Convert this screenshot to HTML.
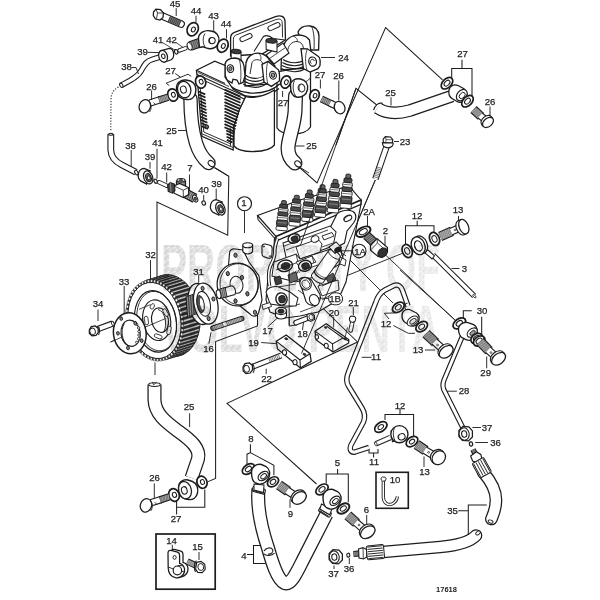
<!DOCTYPE html>
<html><head><meta charset="utf-8"><title>17618</title>
<style>
html,body{margin:0;padding:0;background:#fff;width:600px;height:600px;overflow:hidden}
svg{display:block;font-family:"Liberation Sans",sans-serif;fill:#222;filter:blur(0.45px)}
text{stroke:#222;stroke-width:0.25px;paint-order:stroke}
</style></head><body>
<svg width="600" height="600" viewBox="0 0 600 600">
<rect width="600" height="600" fill="#fff"/>
<path d="M277,92 L277,128 C282,136 305,136 310.5,127 L310.5,66 L277,72 Z" fill="#fff" stroke="#1c1c1c" stroke-width="1.26" />
<path d="M279,84 C288,88 303,86 310.5,78" fill="none" stroke="#1c1c1c" stroke-width="0.92" />
<path d="M230.6,56 L230.6,38 C230.6,34.5 232,33.2 234.5,32.3 L275.5,16.6 C281,14.8 284.6,16.5 285,21 L285.5,40 L262,54 Z" fill="#fff" stroke="#1c1c1c" stroke-width="1.32" />
<path d="M233.4,53 L233.4,39.6 C233.4,36.8 234.4,35.6 236.6,34.8 L275.8,19.6 C279.8,18.4 282,19.4 282.2,22.6 L282.6,37.5" fill="none" stroke="#1c1c1c" stroke-width="0.92" />
<rect x="239.6" y="35.3" width="12.8" height="4.6" rx="2.3" transform="rotate(-24 246 37.6)" fill="#fff" stroke="#1c1c1c" stroke-width="1"/>
<rect x="267.6" y="24.3" width="12.8" height="4.6" rx="2.3" transform="rotate(-24 274 26.6)" fill="#fff" stroke="#1c1c1c" stroke-width="1"/>
<path d="M254,51.5 L263.5,36.5 C266,35 270,36 273,38.5 L285,40" fill="none" stroke="#1c1c1c" stroke-width="1.03" />
<path d="M298,32 C300,27.5 305,25.5 310,26 C315.5,26.6 318.6,30 319,36 L318.6,50 L304,50 Z" fill="#fff" stroke="#1c1c1c" stroke-width="1.32" />
<path d="M311.5,26.4 C314,31 314.6,40 314,49" fill="none" stroke="#1c1c1c" stroke-width="0.92" />
<path d="M281.5,56 C281.5,46 286,38.5 293,36 C299,34 306,35 309.5,40 L311,52 L309,68 L281,70 Z" fill="#fff" stroke="#1c1c1c" stroke-width="1.32" />
<path d="M287.5,52 C288,45 292,41.5 297,41.5 C301,41.8 303,44.5 303.4,48" fill="none" stroke="#1c1c1c" stroke-width="0.92" />
<path d="M293,36 C296.5,37.5 298,39.5 297,41.5" fill="none" stroke="#1c1c1c" stroke-width="0.8" />
<path d="M283.0,59.5 C290,64.0 300,63.5 305,59.5" fill="none" stroke="#1c1c1c" stroke-width="1.03" />
<path d="M282.4,62.5 C290,67.0 300,66.5 305,62.5" fill="none" stroke="#1c1c1c" stroke-width="1.03" />
<path d="M281.8,65.5 C290,70.0 300,69.5 305,65.5" fill="none" stroke="#1c1c1c" stroke-width="1.03" />
<path d="M281.2,68.5 C290,73.0 300,72.5 305,68.5" fill="none" stroke="#1c1c1c" stroke-width="1.03" />
<path d="M301,48.6 L307.4,48.8 L318.4,56.4 C320,58 320.4,62 320,65.6 L318,68.6 L310,72 L303.4,68.6 Z" fill="#fff" stroke="#1c1c1c" stroke-width="1.32" />
<path d="M307.4,48.8 C305,54 305,63 307,70.4" fill="none" stroke="#1c1c1c" stroke-width="0.8" />
<ellipse cx="312.6" cy="61.6" rx="3.8" ry="4.6" transform="rotate(-15 312.6 61.6)" fill="#fff" stroke="#1c1c1c" stroke-width="1.26"/>
<path d="M311.3,63.6 A2.0,2.4 0 1 1 314.4,61" fill="none" stroke="#1c1c1c" stroke-width="0.92" />
<line x1="321" y1="57.5" x2="335" y2="57.5" stroke="#1c1c1c" stroke-width="0.92"/>
<path d="M266,55 L283,43 L289,53 L274,64 Z" fill="#fff" stroke="#1c1c1c" stroke-width="1.15" />
<path d="M269.5,58.5 L285.5,47.5" fill="none" stroke="#1c1c1c" stroke-width="0.8" />
<path d="M231.2,51.5 L231.2,59 L241,61.5 L241,52 Z" fill="#fff" stroke="#1c1c1c" stroke-width="1.03" />
<ellipse cx="236.1" cy="51.5" rx="4.9" ry="2.2" transform="rotate(5 236.1 51.5)" fill="#3a3a3a" stroke="#1c1c1c" stroke-width="1.03"/>
<path d="M266,40.8 L266.2,49.5 L277,52 L277,41.4 Z" fill="#fff" stroke="#1c1c1c" stroke-width="1.03" />
<ellipse cx="271.5" cy="40.8" rx="5.4" ry="2.3" transform="rotate(5 271.5 40.8)" fill="#3a3a3a" stroke="#1c1c1c" stroke-width="1.03"/>
<path d="M245,76 L246,63 C247,57 252,53 258.5,53.2 C264,53.6 268,57 270,61 L275,66 L270,84 L245,86 Z" fill="#fff" stroke="#1c1c1c" stroke-width="1.32" />
<path d="M250,74 L252,62.5 C253.5,59.5 257.5,59 260.5,60.5 C262.8,62 263.6,65 264,74" fill="none" stroke="#1c1c1c" stroke-width="0.92" />
<path d="M258.5,53.2 C261,55 261.6,58 260.5,60.5" fill="none" stroke="#1c1c1c" stroke-width="0.8" />
<path d="M245.5,75 C251,79.6 260,79.4 264.5,75" fill="none" stroke="#1c1c1c" stroke-width="1.03" />
<path d="M244.7,78 C251,82.6 260,82.4 265.0,78" fill="none" stroke="#1c1c1c" stroke-width="1.03" />
<path d="M243.9,81 C251,85.6 260,85.4 265.5,81" fill="none" stroke="#1c1c1c" stroke-width="1.03" />
<path d="M243.1,84 C251,88.6 260,88.4 266.0,84" fill="none" stroke="#1c1c1c" stroke-width="1.03" />
<path d="M225.5,82 C232,88 238,92 250,93 C263,93.6 273,90.5 279.5,84" fill="none" stroke="#1c1c1c" stroke-width="1.38" />
<path d="M229,88 C236,94 243,96.4 252,96.6 C264,96.8 273,94 279,88.5" fill="none" stroke="#1c1c1c" stroke-width="1.15" />
<path d="M225,75 L225,64 C226,60 230,58 235,58 C240,58.4 243.4,61.5 244,66 L245,76 L243,82.4 L239,84 L237,80 L233,79.2 L232,83 L227,80 Z" fill="#fff" stroke="#1c1c1c" stroke-width="1.32" />
<path d="M239.5,59.5 C241,66 241.4,76 240.4,83" fill="none" stroke="#1c1c1c" stroke-width="0.8" />
<ellipse cx="230.4" cy="68.6" rx="3.2" ry="3.9" transform="rotate(-10 230.4 68.6)" fill="#fff" stroke="#1c1c1c" stroke-width="1.15"/>
<ellipse cx="230.4" cy="68.6" rx="1.6" ry="2.0" transform="rotate(-10 230.4 68.6)" fill="#999" stroke="#1c1c1c" stroke-width="0.92"/>
<path d="M262,64.4 L268,61.4 L278.4,69.8 C279.4,72 279.8,76 279.4,81 L271.4,86.4 L264,82 Z" fill="#fff" stroke="#1c1c1c" stroke-width="1.32" />
<path d="M268,61.4 C266,66 266,78 268,84.4" fill="none" stroke="#1c1c1c" stroke-width="0.8" />
<ellipse cx="273" cy="75.2" rx="3.3" ry="4.0" transform="rotate(-15 273 75.2)" fill="#fff" stroke="#1c1c1c" stroke-width="1.15"/>
<ellipse cx="273" cy="75.2" rx="1.7" ry="2.1" transform="rotate(-15 273 75.2)" fill="#999" stroke="#1c1c1c" stroke-width="0.92"/>
<path d="M234,126 L234,146 C240,153.5 268,153.5 274.4,145 L274.4,90 C262,98 250,98 245.5,96.5 L239,110 Z" fill="#fff" stroke="#1c1c1c" stroke-width="1.26" />
<path d="M196.4,70.2 L214.8,61.2 L225,65.5 L225,77 L233,89 L245.8,96.3 L239.2,110 L233.6,127 L233.2,150 L202,136.4 L197,75 Z" fill="#fff" stroke="#1c1c1c" stroke-width="1.26" />
<path d="M197,74.6 L245.5,96.6" fill="none" stroke="#1c1c1c" stroke-width="1.15" />
<path d="M197.3,77.4 L244.3,99" fill="none" stroke="#1c1c1c" stroke-width="1.03" />
<path d="M196.4,70.2 L225,83.5" fill="none" stroke="#1c1c1c" stroke-width="1.03" />
<path d="M197.8,72.4 L229,86.5" fill="none" stroke="#1c1c1c" stroke-width="0.8" />
<path d="M199.8,82 L203.8,132 L231,144 M202.5,134 L233,147.5 M230.2,128 L230.6,146" fill="none" stroke="#1c1c1c" stroke-width="0.92" />
<line x1="198.7" y1="91.5" x2="205.2" y2="94.4" stroke="#1c1c1c" stroke-width="1.72"/>
<line x1="198.95" y1="94.65" x2="205.45" y2="97.55000000000001" stroke="#1c1c1c" stroke-width="1.72"/>
<line x1="199.2" y1="97.8" x2="205.7" y2="100.7" stroke="#1c1c1c" stroke-width="1.72"/>
<line x1="199.45" y1="100.95" x2="205.95" y2="103.85000000000001" stroke="#1c1c1c" stroke-width="1.72"/>
<line x1="199.7" y1="104.1" x2="206.2" y2="107.0" stroke="#1c1c1c" stroke-width="1.72"/>
<line x1="199.95" y1="107.25" x2="206.45" y2="110.15" stroke="#1c1c1c" stroke-width="1.72"/>
<line x1="200.2" y1="110.4" x2="206.7" y2="113.30000000000001" stroke="#1c1c1c" stroke-width="1.72"/>
<line x1="200.45" y1="113.55" x2="206.95" y2="116.45" stroke="#1c1c1c" stroke-width="1.72"/>
<line x1="200.7" y1="116.7" x2="207.2" y2="119.60000000000001" stroke="#1c1c1c" stroke-width="1.72"/>
<line x1="200.95" y1="119.85" x2="207.45" y2="122.75" stroke="#1c1c1c" stroke-width="1.72"/>
<line x1="201.2" y1="123.0" x2="207.7" y2="125.9" stroke="#1c1c1c" stroke-width="1.72"/>
<line x1="201.45" y1="126.15" x2="207.95" y2="129.05" stroke="#1c1c1c" stroke-width="1.72"/>
<line x1="224.5" y1="89.5" x2="240.5" y2="96.5" stroke="#1c1c1c" stroke-width="1.78"/>
<line x1="224.5" y1="92.65" x2="240.5" y2="99.65" stroke="#1c1c1c" stroke-width="1.78"/>
<line x1="224.5" y1="95.8" x2="240.5" y2="102.8" stroke="#1c1c1c" stroke-width="1.78"/>
<line x1="224.5" y1="98.95" x2="240.5" y2="105.95" stroke="#1c1c1c" stroke-width="1.78"/>
<line x1="224.5" y1="102.1" x2="239.88" y2="108.82874999999999" stroke="#1c1c1c" stroke-width="1.78"/>
<line x1="224.5" y1="105.25" x2="239.26" y2="111.7075" stroke="#1c1c1c" stroke-width="1.78"/>
<line x1="224.5" y1="108.4" x2="238.64" y2="114.58625" stroke="#1c1c1c" stroke-width="1.78"/>
<line x1="224.5" y1="111.55" x2="238.02" y2="117.465" stroke="#1c1c1c" stroke-width="1.78"/>
<line x1="224.5" y1="114.7" x2="237.4" y2="120.34375" stroke="#1c1c1c" stroke-width="1.78"/>
<line x1="224.5" y1="117.85" x2="236.78" y2="123.2225" stroke="#1c1c1c" stroke-width="1.78"/>
<line x1="224.5" y1="121.0" x2="236.16" y2="126.10125" stroke="#1c1c1c" stroke-width="1.78"/>
<line x1="224.5" y1="124.15" x2="235.54" y2="128.98" stroke="#1c1c1c" stroke-width="1.78"/>
<line x1="224.5" y1="127.3" x2="234.92" y2="131.85875" stroke="#1c1c1c" stroke-width="1.78"/>
<line x1="226.2" y1="130.45" x2="234.3" y2="133.99375" stroke="#1c1c1c" stroke-width="1.78"/>
<line x1="226.4" y1="133.6" x2="233.68" y2="136.785" stroke="#1c1c1c" stroke-width="1.78"/>
<line x1="226.6" y1="136.75" x2="233.06" y2="139.57625000000002" stroke="#1c1c1c" stroke-width="1.78"/>
<line x1="226.8" y1="139.9" x2="232.44" y2="142.3675" stroke="#1c1c1c" stroke-width="1.78"/>
<ellipse cx="206.8" cy="126.6" rx="2.0" ry="1.6" transform="rotate(20 206.8 126.6)" fill="#666" stroke="#1c1c1c" stroke-width="0.92"/>
<ellipse cx="285.8" cy="82" rx="4.8" ry="6.3" transform="rotate(22 285.8 82)" fill="#fff" stroke="#1c1c1c" stroke-width="1.72"/>
<ellipse cx="286.3563103127401" cy="82.22476395604954" rx="1.8239999999999998" ry="2.394" transform="rotate(22 286.3563103127401 82.22476395604954)" fill="#fff" stroke="#1c1c1c" stroke-width="1.03"/>
<line x1="282.6" y1="91" x2="282.6" y2="97" stroke="#1c1c1c" stroke-width="0.92"/>
<path d="M295.5,96 L295,112 C293.5,128 288.5,138 288,148 C288,155 290.5,159.5 295,163" fill="none" stroke="#1c1c1c" stroke-width="15.0" stroke-linecap="round" stroke-linejoin="round"/>
<path d="M295.5,96 L295,112 C293.5,128 288.5,138 288,148 C288,155 290.5,159.5 295,163" fill="none" stroke="#fff" stroke-width="12.5" stroke-linecap="round" stroke-linejoin="round"/>
<ellipse cx="298" cy="164" rx="2.6" ry="3.6" transform="rotate(-50 298 164)" fill="#fff" stroke="#1c1c1c" stroke-width="1.03"/>
<path d="M290.5,85.5 C290.5,80.5 295.5,78 300.5,79 C306,80 308.5,84.5 307.5,89.5 C306.5,95 301.5,98 296.5,97 C292.5,96.5 290.5,91.5 290.5,85.5 Z" fill="#fff" stroke="#1c1c1c" stroke-width="1.38" />
<path d="M294.5,80.5 C292,85.5 293,93.5 296.5,96.9" fill="none" stroke="#1c1c1c" stroke-width="0.92" />
<ellipse cx="301.5" cy="88" rx="3.3" ry="4.0" transform="rotate(-15 301.5 88)" fill="#fff" stroke="#1c1c1c" stroke-width="1.03"/>
<path d="M300.1,91 A3.3,4 -15 0 1 300.1,85.1" fill="none" stroke="#1c1c1c" stroke-width="0.92" />
<ellipse cx="314.5" cy="95.5" rx="4.6" ry="6.0" transform="rotate(22 314.5 95.5)" fill="#fff" stroke="#1c1c1c" stroke-width="1.72"/>
<ellipse cx="315.0563103127401" cy="95.72476395604954" rx="1.7479999999999998" ry="2.2800000000000002" transform="rotate(22 315.0563103127401 95.72476395604954)" fill="#fff" stroke="#1c1c1c" stroke-width="1.03"/>
<line x1="320.4" y1="79.5" x2="320.4" y2="88.5" stroke="#1c1c1c" stroke-width="0.92"/>
<path d="M321.5,99 L333,104.5" fill="none" stroke="#1c1c1c" stroke-width="7.24" stroke-linecap="butt" stroke-linejoin="round"/>
<path d="M321.5,99 L333,104.5" fill="none" stroke="#666" stroke-width="5.0" stroke-linecap="butt" stroke-linejoin="round"/>
<line x1="323.5" y1="97.1" x2="321.5" y2="101.9" stroke="#ddd" stroke-width="0.57"/>
<line x1="325.1" y1="97.86999999999999" x2="323.1" y2="102.67" stroke="#ddd" stroke-width="0.57"/>
<line x1="326.7" y1="98.64" x2="324.7" y2="103.44000000000001" stroke="#ddd" stroke-width="0.57"/>
<line x1="328.3" y1="99.41" x2="326.3" y2="104.21000000000001" stroke="#ddd" stroke-width="0.57"/>
<line x1="329.9" y1="100.17999999999999" x2="327.9" y2="104.98" stroke="#ddd" stroke-width="0.57"/>
<line x1="331.5" y1="100.94999999999999" x2="329.5" y2="105.75" stroke="#ddd" stroke-width="0.57"/>
<path d="M330,103 L336,106" fill="none" stroke="#1c1c1c" stroke-width="7.24" stroke-linecap="butt" stroke-linejoin="round"/>
<path d="M330,103 L336,106" fill="none" stroke="#fff" stroke-width="5.0" stroke-linecap="butt" stroke-linejoin="round"/>
<ellipse cx="339.6" cy="107.6" rx="5.2" ry="6.4" transform="rotate(-25 339.6 107.6)" fill="#fff" stroke="#1c1c1c" stroke-width="1.26"/>
<path d="M335.2,104.6 C333.5,107 334.5,111.5 337,113" fill="none" stroke="#1c1c1c" stroke-width="0.92" />
<line x1="338.8" y1="80.5" x2="338.8" y2="100.5" stroke="#1c1c1c" stroke-width="0.92"/>
<line x1="295.5" y1="146" x2="304.5" y2="146" stroke="#1c1c1c" stroke-width="0.92"/>
<line x1="299.5" y1="167" x2="309" y2="173" stroke="#1c1c1c" stroke-width="0.92"/>
<path d="M160,15 L181,24" fill="none" stroke="#1c1c1c" stroke-width="7.84" stroke-linecap="round" stroke-linejoin="round"/>
<path d="M160,15 L181,24" fill="none" stroke="#fff" stroke-width="5.6" stroke-linecap="round" stroke-linejoin="round"/>
<path d="M169,18.86 L180,23.57" fill="none" stroke="#1c1c1c" stroke-width="5.6" stroke-linecap="butt" stroke-linejoin="round"/>
<path d="M169,18.86 L180,23.57" fill="none" stroke="#777" stroke-width="5.6" stroke-linecap="butt" stroke-linejoin="round"/>
<line x1="170.54999999999998" y1="16.45" x2="168.35" y2="21.650000000000002" stroke="#222" stroke-width="0.57"/>
<line x1="172.23" y1="17.169999999999998" x2="170.03" y2="22.37" stroke="#222" stroke-width="0.57"/>
<line x1="173.91" y1="17.89" x2="171.71" y2="23.090000000000003" stroke="#222" stroke-width="0.57"/>
<line x1="175.59" y1="18.61" x2="173.39000000000001" y2="23.810000000000002" stroke="#222" stroke-width="0.57"/>
<line x1="177.27" y1="19.33" x2="175.07000000000002" y2="24.53" stroke="#222" stroke-width="0.57"/>
<line x1="178.95" y1="20.049999999999997" x2="176.75" y2="25.25" stroke="#222" stroke-width="0.57"/>
<line x1="180.63" y1="20.77" x2="178.43" y2="25.970000000000002" stroke="#222" stroke-width="0.57"/>
<path d="M153.5,12 L156,9.2 L160.5,9.6 L163.5,13 L163,17.5 L160,20 L155.5,19 L153.3,15.5 Z" fill="#fff" stroke="#1c1c1c" stroke-width="1.26" />
<path d="M156,9.2 L157.5,13 L156.5,18.8 M157.5,13 L163.5,13" fill="none" stroke="#1c1c1c" stroke-width="0.8" />
<line x1="176.2" y1="8.2" x2="176.2" y2="16" stroke="#1c1c1c" stroke-width="0.92"/>
<ellipse cx="192.7" cy="29.2" rx="5.4" ry="6.9" transform="rotate(25 192.7 29.2)" fill="#fff" stroke="#1c1c1c" stroke-width="1.72"/>
<ellipse cx="193.33441545092563" cy="29.49583278321849" rx="1.944" ry="2.484" transform="rotate(25 193.33441545092563 29.49583278321849)" fill="#fff" stroke="#1c1c1c" stroke-width="1.03"/>
<line x1="196" y1="15.7" x2="196" y2="22.5" stroke="#1c1c1c" stroke-width="0.92"/>
<path d="M200,42.6 L190,46.2" fill="none" stroke="#1c1c1c" stroke-width="9.84" stroke-linecap="butt" stroke-linejoin="round"/>
<path d="M200,42.6 L190,46.2" fill="none" stroke="#555" stroke-width="7.6" stroke-linecap="butt" stroke-linejoin="round"/>
<ellipse cx="189.6" cy="46.3" rx="2.2" ry="3.9" transform="rotate(-20 189.6 46.3)" fill="#fff" stroke="#1c1c1c" stroke-width="1.03"/>
<line x1="197.3" y1="39.5" x2="199.7" y2="46.7" stroke="#c8c8c8" stroke-width="0.52"/>
<line x1="195.5" y1="40.15" x2="197.89999999999998" y2="47.35" stroke="#c8c8c8" stroke-width="0.52"/>
<line x1="193.70000000000002" y1="40.8" x2="196.1" y2="48.0" stroke="#c8c8c8" stroke-width="0.52"/>
<line x1="191.9" y1="41.45" x2="194.29999999999998" y2="48.650000000000006" stroke="#c8c8c8" stroke-width="0.52"/>
<line x1="190.10000000000002" y1="42.1" x2="192.5" y2="49.300000000000004" stroke="#c8c8c8" stroke-width="0.52"/>
<path d="M198.5,39 C198,33 205,29.5 211,31 C216.5,31.5 219.5,36 219,41 C218.5,46.5 213.5,49.5 208.5,48.5 C205,48 203,46 202,47 L199.5,47.5 Z" fill="#fff" stroke="#1c1c1c" stroke-width="1.38" />
<path d="M205,33.5 C202.5,37 202.5,44 205.5,47.5" fill="none" stroke="#1c1c1c" stroke-width="0.92" />
<circle cx="212" cy="40.6" r="3.2" fill="#fff" stroke="#1c1c1c" stroke-width="1.03"/>
<path d="M210.2,42.8 A3.2,3.2 0 0 1 210.5,38" fill="none" stroke="#1c1c1c" stroke-width="1.03" />
<line x1="213.7" y1="20.2" x2="213.7" y2="30.7" stroke="#1c1c1c" stroke-width="0.92"/>
<ellipse cx="222.7" cy="45.7" rx="5.2" ry="6.8" transform="rotate(25 222.7 45.7)" fill="#fff" stroke="#1c1c1c" stroke-width="1.72"/>
<ellipse cx="223.33441545092563" cy="45.99583278321849" rx="1.8719999999999999" ry="2.448" transform="rotate(25 223.33441545092563 45.99583278321849)" fill="#fff" stroke="#1c1c1c" stroke-width="1.03"/>
<line x1="226.5" y1="29.2" x2="226.5" y2="38.5" stroke="#1c1c1c" stroke-width="0.92"/>
<line x1="162.7" y1="42.7" x2="175.3" y2="50.3" stroke="#1c1c1c" stroke-width="0.8"/>
<line x1="176.2" y1="42.7" x2="183" y2="47.4" stroke="#1c1c1c" stroke-width="0.8"/>
<ellipse cx="176.2" cy="51.8" rx="1.6" ry="2.3" transform="rotate(-20 176.2 51.8)" fill="#fff" stroke="#1c1c1c" stroke-width="1.15"/>
<path d="M179.5,50.4 L185.6,48.2" fill="none" stroke="#1c1c1c" stroke-width="4.36" stroke-linecap="round" stroke-linejoin="round"/>
<path d="M179.5,50.4 L185.6,48.2" fill="none" stroke="#fff" stroke-width="2.6" stroke-linecap="round" stroke-linejoin="round"/>
<path d="M160,57 L152,59.5 C146,61 144,66 141,71 C139,74.5 136,77 130,80.5 L121.5,85.2" fill="none" stroke="#1c1c1c" stroke-width="5.84" stroke-linecap="butt" stroke-linejoin="round"/>
<path d="M160,57 L152,59.5 C146,61 144,66 141,71 C139,74.5 136,77 130,80.5 L121.5,85.2" fill="none" stroke="#fff" stroke-width="3.6" stroke-linecap="butt" stroke-linejoin="round"/>
<ellipse cx="121.3" cy="85.3" rx="1.4" ry="2.3" transform="rotate(-30 121.3 85.3)" fill="#fff" stroke="#1c1c1c" stroke-width="1.03"/>
<path d="M160.5,50.8 L169.2,48.3 C174.2,48.3 175.2,57.3 171.2,59.8 L164.2,62.3 Z" fill="#fff" stroke="#1c1c1c" stroke-width="1.26" />
<ellipse cx="163.1" cy="56.3" rx="4.3" ry="6.0" transform="rotate(-18 163.1 56.3)" fill="#fff" stroke="#1c1c1c" stroke-width="1.26"/>
<ellipse cx="163.29999999999998" cy="56.3" rx="1.7" ry="2.3" transform="rotate(-18 163.29999999999998 56.3)" fill="#fff" stroke="#1c1c1c" stroke-width="1.03"/>
<line x1="147.5" y1="52.3" x2="159" y2="52.6" stroke="#1c1c1c" stroke-width="0.92"/>
<path d="M131.5,67.5 L136,67.5 L138.5,74" fill="none" stroke="#1c1c1c" stroke-width="0.92" />
<path d="M118.5,87 C113,90 111,94 111,100 L110.8,131" fill="none" stroke="#1c1c1c" stroke-width="1.03" stroke-dasharray="1.2 1.6"/>
<path d="M190.5,99 C190.5,118 193,133 196,143 C198.5,151 202.5,158 208.5,163" fill="none" stroke="#1c1c1c" stroke-width="14.5" stroke-linecap="round" stroke-linejoin="round"/>
<path d="M190.5,99 C190.5,118 193,133 196,143 C198.5,151 202.5,158 208.5,163" fill="none" stroke="#fff" stroke-width="12.0" stroke-linecap="round" stroke-linejoin="round"/>
<ellipse cx="211.4" cy="163.6" rx="2.6" ry="3.6" transform="rotate(-50 211.4 163.6)" fill="#fff" stroke="#1c1c1c" stroke-width="1.03"/>
<line x1="178" y1="130.5" x2="187" y2="130.5" stroke="#1c1c1c" stroke-width="0.92"/>
<line x1="214" y1="167.5" x2="228.7" y2="176.2" stroke="#1c1c1c" stroke-width="0.92"/>
<ellipse cx="200.6" cy="82" rx="5.0" ry="6.3" transform="rotate(-20 200.6 82)" fill="#fff" stroke="#1c1c1c" stroke-width="1.72"/>
<ellipse cx="201.16381557247155" cy="81.7947879140046" rx="1.9" ry="2.394" transform="rotate(-20 201.16381557247155 81.7947879140046)" fill="#fff" stroke="#1c1c1c" stroke-width="1.03"/>
<path d="M176.5,88 C176.5,82.5 181,79.5 186,80 L190.5,81 C195,83 196.5,88 195.5,93 C194.5,97.5 191,100 187,99.5 L183.5,99 C179,98 176.5,93.5 176.5,88 Z" fill="#fff" stroke="#1c1c1c" stroke-width="1.38" />
<ellipse cx="184.2" cy="89.6" rx="6.6" ry="8.2" transform="rotate(-15 184.2 89.6)" fill="#fff" stroke="#1c1c1c" stroke-width="1.26"/>
<ellipse cx="183.4" cy="89.6" rx="2.9" ry="3.6" transform="rotate(-15 183.4 89.6)" fill="#fff" stroke="#1c1c1c" stroke-width="1.03"/>
<ellipse cx="172.8" cy="95" rx="5.0" ry="6.3" transform="rotate(-20 172.8 95)" fill="#fff" stroke="#1c1c1c" stroke-width="1.72"/>
<ellipse cx="173.36381557247157" cy="94.7947879140046" rx="1.9" ry="2.394" transform="rotate(-20 173.36381557247157 94.7947879140046)" fill="#fff" stroke="#1c1c1c" stroke-width="1.03"/>
<path d="M150,103 L160,99.8" fill="none" stroke="#1c1c1c" stroke-width="7.44" stroke-linecap="butt" stroke-linejoin="round"/>
<path d="M150,103 L160,99.8" fill="none" stroke="#fff" stroke-width="5.2" stroke-linecap="butt" stroke-linejoin="round"/>
<path d="M159,100.1 L168,97.2" fill="none" stroke="#1c1c1c" stroke-width="7.44" stroke-linecap="butt" stroke-linejoin="round"/>
<path d="M159,100.1 L168,97.2" fill="none" stroke="#666" stroke-width="5.2" stroke-linecap="butt" stroke-linejoin="round"/>
<line x1="159.2" y1="97.2" x2="160.8" y2="102.39999999999999" stroke="#ddd" stroke-width="0.57"/>
<line x1="160.7" y1="96.72" x2="162.3" y2="101.91999999999999" stroke="#ddd" stroke-width="0.57"/>
<line x1="162.2" y1="96.24000000000001" x2="163.8" y2="101.44" stroke="#ddd" stroke-width="0.57"/>
<line x1="163.7" y1="95.76" x2="165.3" y2="100.96" stroke="#ddd" stroke-width="0.57"/>
<line x1="165.2" y1="95.28" x2="166.8" y2="100.47999999999999" stroke="#ddd" stroke-width="0.57"/>
<line x1="166.7" y1="94.8" x2="168.3" y2="99.99999999999999" stroke="#ddd" stroke-width="0.57"/>
<line x1="151.6" y1="90.5" x2="151.6" y2="100" stroke="#1c1c1c" stroke-width="0.92"/>
<line x1="153.5" y1="102.5" x2="156" y2="105" stroke="#1c1c1c" stroke-width="0.8"/>
<ellipse cx="144.8" cy="106.3" rx="5.6" ry="6.8" transform="rotate(20 144.8 106.3)" fill="#fff" stroke="#1c1c1c" stroke-width="1.26"/>
<path d="M149.2,102 C151.5,104 151.8,109 149.5,112" fill="none" stroke="#1c1c1c" stroke-width="0.92" />
<path d="M166.2,83.2 L188,74.2 M175.2,73.5 L180.5,77.2 M166.2,83.2 L169.2,85.6 M188,74.2 L191.2,76.4" fill="none" stroke="#1c1c1c" stroke-width="0.92" />
<path d="M110.8,134 L110.8,150 C111,158 116,162 122,165 L136,172.2" fill="none" stroke="#1c1c1c" stroke-width="6.84" stroke-linecap="butt" stroke-linejoin="round"/>
<path d="M110.8,134 L110.8,150 C111,158 116,162 122,165 L136,172.2" fill="none" stroke="#fff" stroke-width="4.6" stroke-linecap="butt" stroke-linejoin="round"/>
<ellipse cx="110.8" cy="134.2" rx="2.3" ry="1.0" transform="rotate(0 110.8 134.2)" fill="#fff" stroke="#1c1c1c" stroke-width="1.03"/>
<ellipse cx="136.4" cy="172.6" rx="1.5" ry="2.5" transform="rotate(-28 136.4 172.6)" fill="#fff" stroke="#1c1c1c" stroke-width="1.03"/>
<line x1="131.2" y1="150" x2="131.2" y2="166.5" stroke="#1c1c1c" stroke-width="0.92"/>
<path d="M150.1,170.8 L144.1,168.4 C137.6,168.9 136.6,177.9 140.6,180.9 L146.6,184.0 Z" fill="#fff" stroke="#1c1c1c" stroke-width="1.26" />
<ellipse cx="148.2" cy="177.4" rx="4.4" ry="6.7" transform="rotate(-20 148.2 177.4)" fill="#fff" stroke="#1c1c1c" stroke-width="1.26"/>
<ellipse cx="148.5" cy="177.6" rx="2.7" ry="4.2" transform="rotate(-20 148.5 177.6)" fill="#666" stroke="#1c1c1c" stroke-width="0.92"/>
<ellipse cx="148.7" cy="177.8" rx="1.3" ry="2.0" transform="rotate(-20 148.7 177.8)" fill="#fff" stroke="#1c1c1c" stroke-width="0.8"/>
<line x1="150" y1="162" x2="150" y2="168.7" stroke="#1c1c1c" stroke-width="0.92"/>
<line x1="157" y1="148.7" x2="157" y2="178.7" stroke="#1c1c1c" stroke-width="0.92"/>
<ellipse cx="155.6" cy="181.2" rx="1.5" ry="2.2" transform="rotate(-25 155.6 181.2)" fill="#fff" stroke="#1c1c1c" stroke-width="1.15"/>
<line x1="166.7" y1="172.5" x2="166.7" y2="182.5" stroke="#1c1c1c" stroke-width="0.92"/>
<path d="M159.2,182.3 L166.8,185.7" fill="none" stroke="#1c1c1c" stroke-width="4.36" stroke-linecap="round" stroke-linejoin="round"/>
<path d="M159.2,182.3 L166.8,185.7" fill="none" stroke="#fff" stroke-width="2.6" stroke-linecap="round" stroke-linejoin="round"/>
<path d="M181,180.5 L181,190" fill="none" stroke="#1c1c1c" stroke-width="10.24" stroke-linecap="butt" stroke-linejoin="round"/>
<path d="M181,180.5 L181,190" fill="none" stroke="#666" stroke-width="8.0" stroke-linecap="butt" stroke-linejoin="round"/>
<line x1="177.4" y1="183.2" x2="184.6" y2="183.2" stroke="#ddd" stroke-width="0.57"/>
<line x1="177.4" y1="185.2" x2="184.6" y2="185.2" stroke="#ddd" stroke-width="0.57"/>
<line x1="177.4" y1="187.2" x2="184.6" y2="187.2" stroke="#ddd" stroke-width="0.57"/>
<ellipse cx="181" cy="180.3" rx="4.0" ry="1.7" transform="rotate(0 181 180.3)" fill="#fff" stroke="#1c1c1c" stroke-width="1.03"/>
<ellipse cx="181" cy="180.3" rx="2.0" ry="0.8" transform="rotate(0 181 180.3)" fill="#555" stroke="#1c1c1c" stroke-width="0.69"/>
<path d="M186,193.6 L195,198.4" fill="none" stroke="#1c1c1c" stroke-width="9.84" stroke-linecap="butt" stroke-linejoin="round"/>
<path d="M186,193.6 L195,198.4" fill="none" stroke="#666" stroke-width="7.6" stroke-linecap="butt" stroke-linejoin="round"/>
<line x1="189.6" y1="191.5" x2="186.4" y2="197.89999999999998" stroke="#ddd" stroke-width="0.57"/>
<line x1="191.5" y1="192.5" x2="188.3" y2="198.89999999999998" stroke="#ddd" stroke-width="0.57"/>
<line x1="193.4" y1="193.5" x2="190.20000000000002" y2="199.89999999999998" stroke="#ddd" stroke-width="0.57"/>
<line x1="195.29999999999998" y1="194.5" x2="192.1" y2="200.89999999999998" stroke="#ddd" stroke-width="0.57"/>
<ellipse cx="195.2" cy="198.6" rx="2.2" ry="3.7" transform="rotate(-27 195.2 198.6)" fill="#fff" stroke="#1c1c1c" stroke-width="1.03"/>
<ellipse cx="195.4" cy="198.7" rx="1.0" ry="1.8" transform="rotate(-27 195.4 198.7)" fill="#555" stroke="#1c1c1c" stroke-width="0.8"/>
<path d="M174,186 L179.5,183.4 L188.6,187.6 L188.6,194.6 L183.4,197.6 L174,193.2 Z" fill="#fff" stroke="#1c1c1c" stroke-width="1.15" />
<path d="M174,186 L183.2,190.2 L188.6,187.6 M183.2,190.2 L183.4,197.6" fill="none" stroke="#1c1c1c" stroke-width="0.8" />
<path d="M167.6,185 L170.4,182.6 L174.4,184.2 L175,190.6 L172.4,193.2 L168.2,191.4 Z" fill="#444" stroke="#1c1c1c" stroke-width="1.03" />
<line x1="170.4" y1="182.8" x2="171" y2="192.4" stroke="#ccc" stroke-width="0.57"/>
<line x1="189.5" y1="174.5" x2="189.5" y2="190.5" stroke="#1c1c1c" stroke-width="0.92"/>
<line x1="203.7" y1="195" x2="203.7" y2="200.8" stroke="#1c1c1c" stroke-width="0.92"/>
<ellipse cx="203.7" cy="203" rx="1.7" ry="2.2" transform="rotate(-20 203.7 203)" fill="#fff" stroke="#1c1c1c" stroke-width="1.15"/>
<line x1="216.2" y1="188.7" x2="216.2" y2="200" stroke="#1c1c1c" stroke-width="0.92"/>
<path d="M222.3,202.0 L216.3,199.6 C209.8,200.1 208.8,209.1 212.8,212.1 L218.8,215.2 Z" fill="#fff" stroke="#1c1c1c" stroke-width="1.26" />
<ellipse cx="220.4" cy="208.6" rx="4.4" ry="6.7" transform="rotate(-20 220.4 208.6)" fill="#fff" stroke="#1c1c1c" stroke-width="1.26"/>
<ellipse cx="220.70000000000002" cy="208.79999999999998" rx="2.7" ry="4.2" transform="rotate(-20 220.70000000000002 208.79999999999998)" fill="#666" stroke="#1c1c1c" stroke-width="0.92"/>
<ellipse cx="220.9" cy="209.0" rx="1.3" ry="2.0" transform="rotate(-20 220.9 209.0)" fill="#fff" stroke="#1c1c1c" stroke-width="0.8"/>
<circle cx="244.5" cy="203.7" r="7" fill="#fff" stroke="#1c1c1c" stroke-width="1.15"/>
<line x1="244.5" y1="210.7" x2="244.5" y2="233" stroke="#1c1c1c" stroke-width="0.92"/>
<path d="M157,277 L157,202 L227.7,235.3 L228.8,176.3 L215,167.8" fill="none" stroke="#1c1c1c" stroke-width="1.03" />
<ellipse cx="171.0" cy="315.5" rx="28.5" ry="41" transform="rotate(-10 171.0 315.5)" fill="#333" stroke="#1c1c1c" stroke-width="1.15"/>
<path d="M182.5670209608479,315.55102693649246 L182.92206411530972,317.8227756439092 L199.42206411530972,312.8227756439092 L199.0670209608479,310.55102693649246 Z" fill="#c8c8c8" stroke="#222" stroke-width="0.4" />
<path d="M182.92206411530972,317.8227756439092 L183.18768094091382,320.1029478896278 L199.68768094091382,315.1029478896278 L199.42206411530972,312.8227756439092 Z" fill="#2b2b2b" stroke="#222" stroke-width="0.4" />
<path d="M183.18768094091382,320.1029478896278 L183.36303570885804,322.38436940818076 L199.86303570885804,317.38436940818076 L199.68768094091382,315.1029478896278 Z" fill="#c8c8c8" stroke="#222" stroke-width="0.4" />
<path d="M183.36303570885804,322.38436940818076 L183.44757668816752,324.65986200342604 L199.94757668816752,319.65986200342604 L199.86303570885804,317.38436940818076 Z" fill="#2b2b2b" stroke="#222" stroke-width="0.4" />
<path d="M183.44757668816752,324.65986200342604 L183.4410378816441,326.92226613380785 L199.9410378816441,321.92226613380785 L199.94757668816752,319.65986200342604 Z" fill="#c8c8c8" stroke="#222" stroke-width="0.4" />
<path d="M183.4410378816441,326.92226613380785 L183.34343986279228,329.16446343892306 L199.84343986279228,324.16446343892306 L199.9410378816441,321.92226613380785 Z" fill="#2b2b2b" stroke="#222" stroke-width="0.4" />
<path d="M183.34343986279228,329.16446343892306 L183.15508971108716,331.3793991365167 L199.65508971108716,326.3793991365167 L199.84343986279228,324.16446343892306 Z" fill="#c8c8c8" stroke="#222" stroke-width="0.4" />
<path d="M183.15508971108716,331.3793991365167 L182.87658004578884,333.5601042194369 L199.37658004578884,328.5601042194369 L199.65508971108716,326.3793991365167 Z" fill="#2b2b2b" stroke="#222" stroke-width="0.4" />
<path d="M182.87658004578884,333.5601042194369 L182.50878716134295,335.6997173827094 L199.00878716134295,330.6997173827094 L199.37658004578884,328.5601042194369 Z" fill="#c8c8c8" stroke="#222" stroke-width="0.4" />
<path d="M182.50878716134295,335.6997173827094 L182.0528682702343,337.79150661174225 L198.5528682702343,332.79150661174225 L199.00878716134295,330.6997173827094 Z" fill="#2b2b2b" stroke="#222" stroke-width="0.4" />
<path d="M182.0528682702343,337.79150661174225 L181.51025786196806,339.8288903637332 L198.01025786196806,334.8288903637332 L198.5528682702343,332.79150661174225 Z" fill="#c8c8c8" stroke="#222" stroke-width="0.4" />
<path d="M181.51025786196806,339.8288903637332 L180.88266318963505,341.8054582756391 L197.38266318963505,336.8054582756391 L198.01025786196806,334.8288903637332 Z" fill="#2b2b2b" stroke="#222" stroke-width="0.4" />
<path d="M180.88266318963505,341.8054582756391 L180.17205889826224,343.71499133354956 L196.67205889826224,338.71499133354956 L197.38266318963505,336.8054582756391 Z" fill="#c8c8c8" stroke="#222" stroke-width="0.4" />
<path d="M180.17205889826224,343.71499133354956 L179.38068081184844,345.5514814400051 L195.88068081184844,340.5514814400051 L196.67205889826224,338.71499133354956 Z" fill="#2b2b2b" stroke="#222" stroke-width="0.4" />
<path d="M179.38068081184844,345.5514814400051 L178.51101889863523,347.30915031769484 L195.01101889863523,342.30915031769484 L195.88068081184844,340.5514814400051 Z" fill="#c8c8c8" stroke="#222" stroke-width="0.4" />
<path d="M178.51101889863523,347.30915031769484 L177.56580943674552,348.9824676900548 L194.06580943674552,343.9824676900548 L195.01101889863523,342.30915031769484 Z" fill="#2b2b2b" stroke="#222" stroke-width="0.4" />
<path d="M177.56580943674552,348.9824676900548 L176.54802640484024,350.56616868156374 L193.04802640484024,345.56616868156374 L194.06580943674552,343.9824676900548 Z" fill="#c8c8c8" stroke="#222" stroke-width="0.4" />
<path d="M176.54802640484024,350.56616868156374 L175.46087212488118,352.05527038298936 L191.96087212488118,347.05527038298936 L193.04802640484024,345.56616868156374 Z" fill="#2b2b2b" stroke="#222" stroke-width="0.4" />
<path d="M175.46087212488118,352.05527038298936 L174.30776718644148,353.44508752946456 L190.80776718644148,348.44508752946456 L191.96087212488118,347.05527038298936 Z" fill="#c8c8c8" stroke="#222" stroke-width="0.4" />
<path d="M174.30776718644148,353.44508752946456 L173.09233968426514,354.7312472420636 L189.59233968426514,349.7312472420636 L190.80776718644148,348.44508752946456 Z" fill="#2b2b2b" stroke="#222" stroke-width="0.4" />
<path d="M173.09233968426514,354.7312472420636 L171.81841380293898,355.9097027864974 L188.31841380293898,350.9097027864974 L189.59233968426514,349.7312472420636 Z" fill="#c8c8c8" stroke="#222" stroke-width="0.4" />
<path d="M171.81841380293898,355.9097027864974 L170.48999778459276,356.97674630563654 L186.98999778459276,351.97674630563654 L188.31841380293898,350.9097027864974 Z" fill="#2b2b2b" stroke="#222" stroke-width="0.4" />
<path d="M170.48999778459276,356.97674630563654 L169.1112713174868,357.92902048580186 L185.6112713174868,352.92902048580186 L186.98999778459276,351.97674630563654 Z" fill="#c8c8c8" stroke="#222" stroke-width="0.4" />
<path d="M169.1112713174868,357.92902048580186 L167.68657238516627,358.7635291201149 L184.18657238516627,353.7635291201149 L185.6112713174868,352.92902048580186 Z" fill="#2b2b2b" stroke="#222" stroke-width="0.4" />
<path d="M167.68657238516627,358.7635291201149 L166.22038361756012,359.47764653567384 L182.72038361756012,354.47764653567384 L184.18657238516627,353.7635291201149 Z" fill="#c8c8c8" stroke="#222" stroke-width="0.4" />
<path d="M166.22038361756012,359.47764653567384 L164.7173181869688,360.0691258548911 L181.2173181869688,355.0691258548911 L182.72038361756012,354.47764653567384 Z" fill="#2b2b2b" stroke="#222" stroke-width="0.4" />
<path d="M144.28268181303116,280.9308741451089 L145.81789470668232,280.46389393499754 L162.31789470668232,275.46389393499754 L160.78268181303116,275.9308741451089 Z" fill="#c8c8c8" stroke="#222" stroke-width="0.4" />
<path d="M145.81789470668232,280.46389393499754 L147.38042471565586,280.12288212649946 L163.88042471565586,275.12288212649946 L162.31789470668232,275.46389393499754 Z" fill="#2b2b2b" stroke="#222" stroke-width="0.4" />
<path d="M147.38042471565586,280.12288212649946 L148.96535554246307,279.9089116689262 L165.46535554246307,274.9089116689262 L163.88042471565586,275.12288212649946 Z" fill="#c8c8c8" stroke="#222" stroke-width="0.4" />
<path d="M148.96535554246307,279.9089116689262 L150.56770040835497,279.82265579249884 L167.06770040835497,274.82265579249884 L165.46535554246307,274.9089116689262 Z" fill="#2b2b2b" stroke="#222" stroke-width="0.4" />
<path d="M150.56770040835497,279.82265579249884 L152.18241774357287,279.8643858901161 L168.68241774357287,274.8643858901161 L167.06770040835497,274.82265579249884 Z" fill="#c8c8c8" stroke="#222" stroke-width="0.4" />
<path d="M152.18241774357287,279.8643858901161 L153.80442704999234,280.0339706634524 L170.30442704999234,275.0339706634524 L168.68241774357287,274.8643858901161 Z" fill="#2b2b2b" stroke="#222" stroke-width="0.4" />
<path d="M153.80442704999234,280.0339706634524 L155.42862488624982,280.3308765360704 L171.92862488624982,275.3308765360704 L170.30442704999234,275.0339706634524 Z" fill="#c8c8c8" stroke="#222" stroke-width="0.4" />
<path d="M155.42862488624982,280.3308765360704 L157.04990092505696,280.75416933225017 L173.54990092505696,275.75416933225017 L171.92862488624982,275.3308765360704 Z" fill="#2b2b2b" stroke="#222" stroke-width="0.4" />
<path d="M157.04990092505696,280.75416933225017 L158.6631540321814,281.3025172162518 L175.1631540321814,276.3025172162518 L173.54990092505696,275.75416933225017 Z" fill="#c8c8c8" stroke="#222" stroke-width="0.4" />
<path d="M158.6631540321814,281.3025172162518 L160.263308316502,281.974194882763 L176.763308316502,276.974194882763 L175.1631540321814,276.3025172162518 Z" fill="#2b2b2b" stroke="#222" stroke-width="0.4" />
<path d="M160.263308316502,281.974194882763 L161.8453291006401,282.7670889853481 L178.3453291006401,277.7670889853481 L176.763308316502,276.974194882763 Z" fill="#c8c8c8" stroke="#222" stroke-width="0.4" />
<path d="M161.8453291006401,282.7670889853481 L163.4042387619176,283.6787047858179 L179.9042387619176,278.6787047858179 L178.3453291006401,277.7670889853481 Z" fill="#2b2b2b" stroke="#222" stroke-width="0.4" />
<path d="M163.4042387619176,283.6787047858179 L164.93513239379908,284.7061740035986 L181.43513239379908,279.7061740035986 L179.9042387619176,278.6787047858179 Z" fill="#c8c8c8" stroke="#222" stroke-width="0.4" />
<path d="M164.93513239379908,284.7061740035986 L166.4331932385425,285.84626384040416 L182.9331932385425,280.84626384040416 L181.43513239379908,279.7061740035986 Z" fill="#2b2b2b" stroke="#222" stroke-width="0.4" />
<path d="M166.4331932385425,285.84626384040416 L167.89370784250113,287.09538715181543 L184.39370784250113,282.09538715181543 L182.9331932385425,280.84626384040416 Z" fill="#c8c8c8" stroke="#222" stroke-width="0.4" />
<path d="M167.89370784250113,287.09538715181543 L169.31208088639264,288.4496137337635 L185.81208088639264,283.4496137337635 L184.39370784250113,282.09538715181543 Z" fill="#2b2b2b" stroke="#222" stroke-width="0.4" />
<path d="M169.31208088639264,288.4496137337635 L170.68384964387346,289.904682688406 L187.18384964387346,284.904682688406 L185.81208088639264,283.4496137337635 Z" fill="#c8c8c8" stroke="#222" stroke-width="0.4" />
<path d="M170.68384964387346,289.904682688406 L172.00469802292693,291.456015830488 L188.50469802292693,286.456015830488 L187.18384964387346,284.904682688406 Z" fill="#2b2b2b" stroke="#222" stroke-width="0.4" />
<path d="M172.00469802292693,291.456015830488 L173.27047014588578,293.09873209200646 L189.77047014588578,288.09873209200646 L188.50469802292693,286.456015830488 Z" fill="#c8c8c8" stroke="#222" stroke-width="0.4" />
<path d="M173.27047014588578,293.09873209200646 L174.47718342536055,294.8276628798563 L190.97718342536055,289.8276628798563 L189.77047014588578,288.09873209200646 Z" fill="#2b2b2b" stroke="#222" stroke-width="0.4" />
<path d="M174.47718342536055,294.8276628798563 L175.6210410949331,296.6373683381359 L192.1210410949331,291.6373683381359 L190.97718342536055,289.8276628798563 Z" fill="#c8c8c8" stroke="#222" stroke-width="0.4" />
<path d="M175.6210410949331,296.6373683381359 L176.69844415518847,298.5221544639473 L193.19844415518847,293.5221544639473 L192.1210410949331,291.6373683381359 Z" fill="#2b2b2b" stroke="#222" stroke-width="0.4" />
<path d="M176.69844415518847,298.5221544639473 L177.7060026974982,300.47609102283474 L194.2060026974982,295.47609102283474 L193.19844415518847,293.5221544639473 Z" fill="#c8c8c8" stroke="#222" stroke-width="0.4" />
<path d="M177.7060026974982,300.47609102283474 L178.64054656992752,302.49303020749716 L195.14054656992752,297.49303020749716 L194.2060026974982,295.47609102283474 Z" fill="#2b2b2b" stroke="#222" stroke-width="0.4" />
<path d="M178.64054656992752,302.49303020749716 L179.49913535170583,304.56662598106396 L195.99913535170583,299.56662598106396 L195.14054656992752,297.49303020749716 Z" fill="#c8c8c8" stroke="#222" stroke-width="0.4" />
<path d="M179.49913535170583,304.56662598106396 L180.2790676048784,306.690354044075 L196.7790676048784,301.690354044075 L195.99913535170583,299.56662598106396 Z" fill="#2b2b2b" stroke="#222" stroke-width="0.4" />
<path d="M180.2790676048784,306.690354044075 L180.9778893740296,308.85753236234024 L197.4778893740296,303.85753236234024 L196.7790676048784,301.690354044075 Z" fill="#c8c8c8" stroke="#222" stroke-width="0.4" />
<path d="M180.9778893740296,308.85753236234024 L181.5934019073345,311.0613421910918 L198.0934019073345,306.0613421910918 L197.4778893740296,303.85753236234024 Z" fill="#2b2b2b" stroke="#222" stroke-width="0.4" />
<path d="M181.5934019073345,311.0613421910918 L182.12366857464568,313.2948495292772 L198.62366857464568,308.2948495292772 L198.0934019073345,306.0613421910918 Z" fill="#c8c8c8" stroke="#222" stroke-width="0.4" />
<path d="M182.12366857464568,313.2948495292772 L182.5670209608479,315.55102693649246 L199.0670209608479,310.55102693649246 L198.62366857464568,308.2948495292772 Z" fill="#2b2b2b" stroke="#222" stroke-width="0.4" />
<ellipse cx="154.5" cy="320.5" rx="28.2" ry="40.7" transform="rotate(-10 154.5 320.5)" fill="#3a3a3a" stroke="#1c1c1c" stroke-width="0.57"/>
<path d="M182.5670209608479,315.55102693649246 L182.95266598748913,318.0505320511376 L180.36705439952888,318.33110334875454 L180.0065208030162,316.00251219842653 Z" fill="#fff" stroke="#222" stroke-width="0.34" />
<path d="M183.18768094091382,320.1029478896278 L183.37558305985795,322.6123038221904 L180.7695741474179,322.5798433844903 L180.58884187437428,320.24285655143876 Z" fill="#fff" stroke="#222" stroke-width="0.34" />
<path d="M183.44757668816752,324.65986200342604 L183.43537292124552,327.14751214709185 L180.84173875844118,326.8024281829129 L180.84308062206344,324.4864346325147 Z" fill="#fff" stroke="#222" stroke-width="0.34" />
<path d="M183.34343986279228,329.16446343892306 L183.131283679454,331.5991241497673 L180.58264072074425,330.9457562901814 L180.7660398463188,328.6798809851036 Z" fill="#fff" stroke="#222" stroke-width="0.34" />
<path d="M182.87658004578884,333.5601042194369 L182.46713943313557,335.9111582263976 L179.9955383424833,334.9577229513318 L180.35868837959538,332.7704605882273 Z" fill="#fff" stroke="#222" stroke-width="0.34" />
<path d="M182.0528682702343,337.79150661174225 L181.45129218153323,340.0293880465686 L179.0878147767097,338.787875357803 L179.62614890293804,336.70673202996693 Z" fill="#fff" stroke="#222" stroke-width="0.34" />
<path d="M180.88266318963505,341.8054582756391 L180.09651679324418,343.9020244808392 L177.87088517393653,342.3880471207774 L178.57763352529514,340.4391944130648 Z" fill="#fff" stroke="#222" stroke-width="0.34" />
<path d="M179.38068081184844,345.5514814400051 L178.41985035483503,347.48036687909234 L176.3600531299977,345.7129639914673 L177.22632793590324,343.92090985742834 Z" fill="#fff" stroke="#222" stroke-width="0.34" />
<path d="M177.56580943674552,348.9824676900548 L176.4423779195934,350.71941550946735 L174.57431823445089,348.7208132110619 L175.58922558659475,347.1080937712062 Z" fill="#fff" stroke="#222" stroke-width="0.34" />
<path d="M175.46087212488118,352.05527038298936 L174.1889673507487,353.5784374560975 L172.53613713971512,351.3737693304303 L173.68691398928115,349.96066546743566 Z" fill="#fff" stroke="#222" stroke-width="0.34" />
<path d="M173.09233968426514,354.7312472420636 L171.68795659366336,356.0214788591609 L170.2711411556369,353.6384698870903 L171.54331581604552,352.4427522019358 Z" fill="#fff" stroke="#222" stroke-width="0.34" />
<path d="M170.48999778459276,356.97674630563654 L168.970797309728,358.01781705552816 L167.8078139208973,355.486434957532 L169.18538805766096,354.52314029388003 Z" fill="#fff" stroke="#222" stroke-width="0.34" />
<path d="M167.68657238516627,358.7635291201149 L166.07165935347066,359.54234693407767 L165.17713320472893,356.89442530878046 L166.64278302379068,356.17566765594296 Z" fill="#fff" stroke="#222" stroke-width="0.34" />
<path d="M164.7173181869688,360.0691258548911 L163.02700106681027,360.57589664703374 L162.41218134349413,357.8447346452335 L163.9474754479894,357.37955279772785 Z" fill="#fff" stroke="#222" stroke-width="0.34" />
<path d="M161.61957528434414,360.87711787350054 L159.87511079425346,361.10546870707657 L159.54772921111032,358.32541227560296 L161.13336038687675,358.1196561650664 Z" fill="#fff" stroke="#222" stroke-width="0.34" />
<path d="M158.43229959164503,361.17734420750116 L156.65562538474703,361.12440343828615 L156.61979895513608,358.33041339979127 L158.23582697013376,358.38667052869624 Z" fill="#fff" stroke="#222" stroke-width="0.34" />
<path d="M155.19557295000763,360.9660293365476 L153.40903173530435,360.6324627254314 L153.66521099736502,357.8596751257602 L155.29131336166404,358.17723802806944 Z" fill="#fff" stroke="#222" stroke-width="0.34" />
<path d="M151.95009907494304,360.24583066774983 L150.1761576447848,359.6358330084072 L150.72112099565794,356.9191172604342 L152.33684852854068,357.49399239839704 Z" fill="#fff" stroke="#222" stroke-width="0.34" />
<path d="M148.736691683498,359.025805117237 L146.99765838063388,358.14704748416295 L147.82455258998712,355.5205678646942 L149.40958658026065,356.3455258499004 Z" fill="#fff" stroke="#222" stroke-width="0.34" />
<path d="M145.5957612380824,357.3212952141821 L143.91350541530645,356.1848284944796 L145.01193180868208,353.68161450864886 L146.54633953426048,354.74628101578276 Z" fill="#fff" stroke="#222" stroke-width="0.34" />
<path d="M142.5668067614575,355.15373615959584 L140.96248376180876,353.7738520816584 L142.31862898998818,351.4253830977362 L143.78311438343832,352.7163693277365 Z" fill="#fff" stroke="#222" stroke-width="0.34" />
<path d="M139.68791911360734,352.5503862662365 L138.18170422965625,350.9444376729717 L139.77851397954132,348.78024705104417 L141.15466028732627,350.28131810302114 Z" fill="#fff" stroke="#222" stroke-width="0.34" />
<path d="M136.99530197707307,349.54398416951204 L135.6061367349115,347.7321667962732 L137.42353019740688,345.77947048910374 L138.69403158124757,347.471749523637 Z" fill="#fff" stroke="#222" stroke-width="0.34" />
<path d="M134.52281657463945,346.1723371201437 L133.2681705332001,344.1774356216403 L135.28329293103857,342.46078991827244 L136.43217209887115,344.3229955446195 Z" fill="#fff" stroke="#222" stroke-width="0.34" />
<path d="M132.3015558448116,342.47784553605277 L131.1972069060281,340.32494695609716 L133.38471690585564,338.86593967227174 L134.3975260355494,340.8746535742045 Z" fill="#fff" stroke="#222" stroke-width="0.34" />
<path d="M130.35945343007248,338.50696979250284 L129.41928942260827,336.22314807987897 L131.75167781695419,335.04012707872585 L132.61568024605765,337.17008851344445 Z" fill="#fff" stroke="#222" stroke-width="0.34" />
<path d="M128.7209323951216,334.309645955925 L127.9567764268664,331.9236214937733 L130.40471207838848,331.0314639507867 L131.10904247504982,333.2558874174173 Z" fill="#fff" stroke="#222" stroke-width="0.34" />
<path d="M127.40659809266549,329.9386578089082 L126.8280598682937,327.48043623924383 L129.36075856584876,326.8903615531687 L129.89655956666792,329.18127363597773 Z" fill="#fff" stroke="#222" stroke-width="0.34" />
<path d="M126.43297903915207,325.44897306350754 L126.04733401251087,322.9494679488624 L128.63294560047112,322.66889665124546 L128.9934791969838,324.99748780157347 Z" fill="#fff" stroke="#222" stroke-width="0.34" />
<path d="M125.81231905908618,320.8970521103722 L125.62441694014205,318.3876961778096 L128.2304258525821,318.42015661550965 L128.41115812562572,320.75714344856124 Z" fill="#fff" stroke="#222" stroke-width="0.34" />
<path d="M125.5524233118325,316.34013799657396 L125.56462707875448,313.85248785290815 L128.15826124155882,314.1975718170871 L128.15691937793656,316.51356536748534 Z" fill="#fff" stroke="#222" stroke-width="0.34" />
<path d="M125.65656013720772,311.83553656107694 L125.86871632054601,309.4008758502327 L128.41735927925575,310.05424370981865 L128.2339601536812,312.3201190148964 Z" fill="#fff" stroke="#222" stroke-width="0.34" />
<path d="M126.12341995421117,307.4398957805632 L126.53286056686441,305.08884177360244 L129.0044616575167,306.0422770486682 L128.64131162040462,308.2295394117727 Z" fill="#fff" stroke="#222" stroke-width="0.34" />
<path d="M126.94713172976569,303.20849338825775 L127.54870781846675,300.97061195343144 L129.9121852232903,302.212124642197 L129.37385109706196,304.29326797003307 Z" fill="#fff" stroke="#222" stroke-width="0.34" />
<path d="M128.11733681036495,299.1945417243609 L128.90348320675585,297.09797551916085 L131.12911482606347,298.6119528792226 L130.4223664747049,300.56080558693515 Z" fill="#fff" stroke="#222" stroke-width="0.34" />
<path d="M129.61931918815156,295.4485185599949 L130.58014964516494,293.5196331209077 L132.6399468700023,295.28703600853277 L131.77367206409676,297.07909014257166 Z" fill="#fff" stroke="#222" stroke-width="0.34" />
<path d="M131.43419056325448,292.01753230994524 L132.55762208040656,290.2805844905327 L134.4256817655491,292.2791867889381 L133.41077441340525,293.8919062287938 Z" fill="#fff" stroke="#222" stroke-width="0.34" />
<path d="M133.53912787511882,288.94472961701064 L134.81103264925127,287.4215625439025 L136.46386286028485,289.62623066956974 L135.31308601071885,291.03933453256434 Z" fill="#fff" stroke="#222" stroke-width="0.34" />
<path d="M135.90766031573483,286.2687527579364 L137.31204340633664,284.9785211408391 L138.7288588443631,287.3615301129097 L137.45668418395448,288.5572477980642 Z" fill="#fff" stroke="#222" stroke-width="0.34" />
<path d="M138.51000221540724,284.02325369436346 L140.02920269027197,282.98218294447184 L141.1921860791027,285.513565042468 L139.81461194233904,286.47685970611997 Z" fill="#fff" stroke="#222" stroke-width="0.34" />
<path d="M141.3134276148337,282.2364708798851 L142.9283406465293,281.4576530659224 L143.82286679527104,284.1055746912196 L142.35721697620932,284.82433234405704 Z" fill="#fff" stroke="#222" stroke-width="0.34" />
<path d="M144.28268181303116,280.9308741451089 L145.9729989331897,280.42410335296626 L146.58781865650587,283.1552653547665 L145.0525245520106,283.62044720227215 Z" fill="#fff" stroke="#222" stroke-width="0.34" />
<path d="M147.38042471565586,280.12288212649946 L149.12488920574654,279.89453129292343 L149.4522707888897,282.67458772439704 L147.86663961312325,282.8803438349336 Z" fill="#fff" stroke="#222" stroke-width="0.34" />
<path d="M150.56770040835497,279.82265579249884 L152.34437461525297,279.87559656171385 L152.3802010448639,282.66958660020873 L150.76417302986624,282.61332947130376 Z" fill="#fff" stroke="#222" stroke-width="0.34" />
<path d="M153.80442704999234,280.0339706634524 L155.59096826469565,280.3675372745686 L155.33478900263498,283.1403248742398 L153.70868663833593,282.82276197193056 Z" fill="#fff" stroke="#222" stroke-width="0.34" />
<path d="M157.04990092505696,280.75416933225017 L158.82384235521516,281.3641669915928 L158.27887900434203,284.0808827395659 L156.66315147145932,283.50600760160296 Z" fill="#fff" stroke="#222" stroke-width="0.34" />
<path d="M160.263308316502,281.974194882763 L162.0023416193661,282.85295251583705 L161.17544741001285,285.4794321353058 L159.59041341973935,284.6544741500996 Z" fill="#fff" stroke="#222" stroke-width="0.34" />
<path d="M163.4042387619176,283.6787047858179 L165.08649458469355,284.8151715055204 L163.98806819131795,287.31838549135114 L162.45366046573952,286.25371898421724 Z" fill="#fff" stroke="#222" stroke-width="0.34" />
<path d="M166.4331932385425,285.84626384040416 L168.03751623819122,287.22614791834155 L166.6813710100118,289.5746169022638 L165.21688561656168,288.2836306722635 Z" fill="#fff" stroke="#222" stroke-width="0.34" />
<path d="M169.31208088639264,288.4496137337635 L170.81829577034375,290.05556232702827 L169.22148602045868,292.21975294895583 L167.84533971267373,290.71868189697886 Z" fill="#fff" stroke="#222" stroke-width="0.34" />
<path d="M172.00469802292693,291.456015830488 L173.3938632650885,293.2678332037268 L171.57646980259312,295.22052951089626 L170.30596841875243,293.528250476363 Z" fill="#fff" stroke="#222" stroke-width="0.34" />
<path d="M174.47718342536055,294.8276628798563 L175.7318294667999,296.82256437835963 L173.7167070689614,298.5392100817275 L172.56782790112885,296.6770044553805 Z" fill="#fff" stroke="#222" stroke-width="0.34" />
<path d="M176.69844415518847,298.5221544639473 L177.8027930939719,300.67505304390284 L175.61528309414436,302.13406032772826 L174.60247396445064,300.12534642579556 Z" fill="#fff" stroke="#222" stroke-width="0.34" />
<path d="M178.64054656992752,302.49303020749716 L179.5807105773917,304.776851920121 L177.24832218304581,305.95987292127415 L176.38431975394235,303.82991148655555 Z" fill="#fff" stroke="#222" stroke-width="0.34" />
<path d="M180.2790676048784,306.690354044075 L181.0432235731336,309.0763785062267 L178.5952879216115,309.9685360492133 L177.89095752495018,307.7441125825827 Z" fill="#fff" stroke="#222" stroke-width="0.34" />
<path d="M181.5934019073345,311.0613421910918 L182.1719401317063,313.51956376075617 L179.63924143415124,314.1096384468313 L179.10344043333208,311.81872636402227 Z" fill="#fff" stroke="#222" stroke-width="0.34" />
<ellipse cx="154.5" cy="320.5" rx="26.1" ry="38.4" transform="rotate(-10 154.5 320.5)" fill="#fff" stroke="#1c1c1c" stroke-width="0.92"/>
<ellipse cx="155.5" cy="321.4" rx="20.6" ry="31" transform="rotate(-10 155.5 321.4)" fill="#fff" stroke="#1c1c1c" stroke-width="1.15"/>
<ellipse cx="156.7" cy="321.1" rx="19.6" ry="30" transform="rotate(-10 156.7 321.1)" fill="none" stroke="#1c1c1c" stroke-width="0.8"/>
<ellipse cx="156.7" cy="320.2" rx="13.8" ry="20.5" transform="rotate(-10 156.7 320.2)" fill="#fff" stroke="#1c1c1c" stroke-width="1.15"/>
<ellipse cx="160.0" cy="320.2" rx="8.4" ry="12.4" transform="rotate(-10 160.0 320.2)" fill="#fff" stroke="#1c1c1c" stroke-width="1.15"/>
<path d="M158.1,309.5 C165.5,311.5 167.5,324.5 164.0,331.5" fill="none" stroke="#1c1c1c" stroke-width="0.92" />
<rect x="149.55" y="304.59999999999997" width="5.5" height="3.6" rx="1.8" transform="rotate(-65 152.3 306.4)" fill="#fff" stroke="#1c1c1c" stroke-width="0.8"/>
<rect x="142.15" y="318.7" width="8.5" height="3.6" rx="1.8" transform="rotate(82 146.4 320.5)" fill="#fff" stroke="#1c1c1c" stroke-width="0.8"/>
<rect x="154.2" y="334.59999999999997" width="8" height="3.6" rx="1.8" transform="rotate(20 158.2 336.4)" fill="#fff" stroke="#1c1c1c" stroke-width="0.8"/>
<rect x="164.75" y="328.59999999999997" width="8.5" height="3.6" rx="1.8" transform="rotate(-78 169 330.4)" fill="#fff" stroke="#1c1c1c" stroke-width="0.8"/>
<rect x="161.6" y="310.8" width="8" height="3.6" rx="1.8" transform="rotate(62 165.6 312.6)" fill="#fff" stroke="#1c1c1c" stroke-width="0.8"/>
<line x1="110.5" y1="342" x2="165.5" y2="318.5" stroke="#1c1c1c" stroke-width="0.8"/>
<line x1="139" y1="309.3" x2="150.5" y2="304.6" stroke="#1c1c1c" stroke-width="0.8"/>
<ellipse cx="129.8" cy="333.3" rx="16.3" ry="20.5" transform="rotate(-8 129.8 333.3)" fill="#fff" stroke="#1c1c1c" stroke-width="1.49"/>
<ellipse cx="130.60000000000002" cy="333.3" rx="9.6" ry="13.2" transform="rotate(-8 130.60000000000002 333.3)" fill="#fff" stroke="#1c1c1c" stroke-width="1.15"/>
<path d="M124.30000000000001,323.5 C120.30000000000001,330.3 121.80000000000001,341.3 128.3,346.1" fill="none" stroke="#1c1c1c" stroke-width="0.92" />
<circle cx="136.75" cy="324.3" r="1.2" fill="#fff" stroke="#1c1c1c" stroke-width="0.8"/>
<circle cx="138.65000000000003" cy="327.90000000000003" r="1.2" fill="#fff" stroke="#1c1c1c" stroke-width="0.8"/>
<circle cx="138.95000000000002" cy="331.5" r="1.2" fill="#fff" stroke="#1c1c1c" stroke-width="0.8"/>
<circle cx="138.95000000000002" cy="335.1" r="1.2" fill="#fff" stroke="#1c1c1c" stroke-width="0.8"/>
<circle cx="138.65000000000003" cy="338.7" r="1.2" fill="#fff" stroke="#1c1c1c" stroke-width="0.8"/>
<circle cx="136.75" cy="342.3" r="1.2" fill="#fff" stroke="#1c1c1c" stroke-width="0.8"/>
<ellipse cx="121.2" cy="318.6" rx="1.4" ry="1.8" transform="rotate(-8 121.2 318.6)" fill="#888" stroke="#1c1c1c" stroke-width="0.92"/>
<ellipse cx="117.9" cy="333.3" rx="1.4" ry="1.8" transform="rotate(-8 117.9 333.3)" fill="#888" stroke="#1c1c1c" stroke-width="0.92"/>
<ellipse cx="128" cy="348" rx="1.4" ry="1.8" transform="rotate(-8 128 348)" fill="#888" stroke="#1c1c1c" stroke-width="0.92"/>
<ellipse cx="141.7" cy="340.6" rx="1.4" ry="1.8" transform="rotate(-8 141.7 340.6)" fill="#888" stroke="#1c1c1c" stroke-width="0.92"/>
<ellipse cx="135.3" cy="323.2" rx="1.4" ry="1.8" transform="rotate(-8 135.3 323.2)" fill="#888" stroke="#1c1c1c" stroke-width="0.92"/>
<line x1="110.5" y1="342" x2="122" y2="337" stroke="#1c1c1c" stroke-width="0.8"/>
<line x1="124.2" y1="286" x2="124.2" y2="313.5" stroke="#1c1c1c" stroke-width="0.92"/>
<line x1="150.5" y1="260" x2="150.5" y2="279.5" stroke="#1c1c1c" stroke-width="0.92"/>
<line x1="98" y1="309.5" x2="98" y2="321" stroke="#1c1c1c" stroke-width="0.92"/>
<path d="M98,329 L112.6,323.6" fill="none" stroke="#1c1c1c" stroke-width="6.44" stroke-linecap="butt" stroke-linejoin="round"/>
<path d="M98,329 L112.6,323.6" fill="none" stroke="#fff" stroke-width="4.2" stroke-linecap="butt" stroke-linejoin="round"/>
<ellipse cx="112.8" cy="323.5" rx="1.2" ry="2.3" transform="rotate(-20 112.8 323.5)" fill="#fff" stroke="#1c1c1c" stroke-width="0.92"/>
<path d="M89.3,329.8 L91.3,326.6 L95.3,326 L98.2,328.4 L98.2,332.6 L96,335.4 L92,335.8 L89.4,333.4 Z" fill="#fff" stroke="#1c1c1c" stroke-width="1.26" />
<ellipse cx="92.6" cy="331.4" rx="2.7" ry="3.3" transform="rotate(-15 92.6 331.4)" fill="#fff" stroke="#1c1c1c" stroke-width="0.92"/>
<path d="M98.2,326.5 C100,328 100,333 98.4,335" fill="none" stroke="#1c1c1c" stroke-width="1.03" />
<ellipse cx="200" cy="304" rx="11.5" ry="20.8" transform="rotate(-12 200 304)" fill="#fff" stroke="#1c1c1c" stroke-width="1.26"/>
<path d="M186,297 L197,293 L198.5,313 L187.5,317 Z" fill="#444" stroke="#1c1c1c" stroke-width="1.03" />
<line x1="187.2" y1="296.6" x2="188.6" y2="316.6" stroke="#ccc" stroke-width="0.57"/>
<line x1="189.39999999999998" y1="295.90000000000003" x2="190.79999999999998" y2="315.8" stroke="#ccc" stroke-width="0.57"/>
<line x1="191.6" y1="295.20000000000005" x2="193.0" y2="315.0" stroke="#ccc" stroke-width="0.57"/>
<line x1="193.79999999999998" y1="294.5" x2="195.2" y2="314.20000000000005" stroke="#ccc" stroke-width="0.57"/>
<line x1="196.0" y1="293.8" x2="197.4" y2="313.40000000000003" stroke="#ccc" stroke-width="0.57"/>
<ellipse cx="205.8" cy="303.6" rx="11.8" ry="20.8" transform="rotate(-12 205.8 303.6)" fill="#fff" stroke="#1c1c1c" stroke-width="1.26"/>
<ellipse cx="203.6" cy="303.8" rx="6.6" ry="12.6" transform="rotate(-12 203.6 303.8)" fill="#fff" stroke="#1c1c1c" stroke-width="1.03"/>
<ellipse cx="200.6" cy="304" rx="3.4" ry="8.6" transform="rotate(-10 200.6 304)" fill="#555" stroke="#1c1c1c" stroke-width="0.92"/>
<ellipse cx="201.8" cy="304" rx="2.2" ry="6.6" transform="rotate(-10 201.8 304)" fill="#fff" stroke="#1c1c1c" stroke-width="0.69"/>
<ellipse cx="202.6" cy="288.4" rx="1.5" ry="2.1" transform="rotate(-12 202.6 288.4)" fill="#888" stroke="#1c1c1c" stroke-width="0.92"/>
<ellipse cx="213.4" cy="299" rx="1.5" ry="2.1" transform="rotate(-12 213.4 299)" fill="#888" stroke="#1c1c1c" stroke-width="0.92"/>
<ellipse cx="208.6" cy="318.6" rx="1.5" ry="2.1" transform="rotate(-12 208.6 318.6)" fill="#888" stroke="#1c1c1c" stroke-width="0.92"/>
<line x1="198.7" y1="274.5" x2="198.7" y2="282.8" stroke="#1c1c1c" stroke-width="0.92"/>
<path d="M213,328.2 L241.6,318.6" fill="none" stroke="#1c1c1c" stroke-width="5.6" stroke-linecap="round" stroke-linejoin="round"/>
<path d="M213,328.2 L241.6,318.6" fill="none" stroke="#777" stroke-width="3.6" stroke-linecap="round" stroke-linejoin="round"/>
<line x1="213.4" y1="326.2" x2="214.6" y2="329.59999999999997" stroke="#eee" stroke-width="0.57"/>
<line x1="214.95000000000002" y1="325.68" x2="216.15" y2="329.08" stroke="#eee" stroke-width="0.57"/>
<line x1="216.5" y1="325.15999999999997" x2="217.7" y2="328.55999999999995" stroke="#eee" stroke-width="0.57"/>
<line x1="218.05" y1="324.64" x2="219.25" y2="328.03999999999996" stroke="#eee" stroke-width="0.57"/>
<line x1="219.6" y1="324.12" x2="220.79999999999998" y2="327.52" stroke="#eee" stroke-width="0.57"/>
<line x1="221.15" y1="323.59999999999997" x2="222.35" y2="326.99999999999994" stroke="#eee" stroke-width="0.57"/>
<line x1="227.35" y1="321.52" x2="228.54999999999998" y2="324.91999999999996" stroke="#eee" stroke-width="0.57"/>
<line x1="228.9" y1="321.0" x2="230.1" y2="324.4" stroke="#eee" stroke-width="0.57"/>
<line x1="230.45000000000002" y1="320.47999999999996" x2="231.65" y2="323.87999999999994" stroke="#eee" stroke-width="0.57"/>
<line x1="232.0" y1="319.96" x2="233.2" y2="323.35999999999996" stroke="#eee" stroke-width="0.57"/>
<line x1="233.55" y1="319.44" x2="234.75" y2="322.84" stroke="#eee" stroke-width="0.57"/>
<line x1="235.1" y1="318.92" x2="236.29999999999998" y2="322.32" stroke="#eee" stroke-width="0.57"/>
<line x1="236.65" y1="318.4" x2="237.85" y2="321.79999999999995" stroke="#eee" stroke-width="0.57"/>
<line x1="238.20000000000002" y1="317.88" x2="239.4" y2="321.28" stroke="#eee" stroke-width="0.57"/>
<line x1="239.75" y1="317.36" x2="240.95" y2="320.76" stroke="#eee" stroke-width="0.57"/>
<path d="M223.2,324.8 L226.6,323.65" fill="none" stroke="#1c1c1c" stroke-width="3.6" stroke-linecap="butt" stroke-linejoin="round"/>
<path d="M223.2,324.8 L226.6,323.65" fill="none" stroke="#fff" stroke-width="3.6" stroke-linecap="butt" stroke-linejoin="round"/>
<line x1="208.9" y1="343.7" x2="211" y2="332.3" stroke="#1c1c1c" stroke-width="0.92"/>
<line x1="155" y1="362.5" x2="155" y2="375" stroke="#1c1c1c" stroke-width="0.92"/>
<path d="M315,300.5 L357.5,342 L227,403.3 L316.5,484" fill="none" stroke="#1c1c1c" stroke-width="1.03" />
<line x1="375.3" y1="180" x2="355" y2="227.7" stroke="#1c1c1c" stroke-width="0.92"/>
<path d="M289.2,269.5 L289.2,326 L297,325" fill="none" stroke="#1c1c1c" stroke-width="0.92" />
<path d="M257.5,312.5 L257.5,326 L215.6,341.5 L215.6,478.4 L208,481.6" fill="none" stroke="#1c1c1c" stroke-width="1.03" />
<path d="M276.2,341.2 L286.2,335 L310,353.7 L311.2,361.4 L300.4,368 L277.5,349 Z" fill="#fff" stroke="#1c1c1c" stroke-width="1.26" />
<path d="M276.2,341.2 L300,360 L310,353.7 M300,360 L300.4,368" fill="none" stroke="#1c1c1c" stroke-width="1.03" />
<ellipse cx="286.2" cy="338.8" rx="1.6" ry="1.0" transform="rotate(20 286.2 338.8)" fill="#333" stroke="#1c1c1c" stroke-width="0.69"/>
<ellipse cx="304.5" cy="354.4" rx="1.6" ry="1.0" transform="rotate(20 304.5 354.4)" fill="#333" stroke="#1c1c1c" stroke-width="0.69"/>
<ellipse cx="284.5" cy="352.4" rx="2.1" ry="2.6" transform="rotate(-10 284.5 352.4)" fill="#fff" stroke="#1c1c1c" stroke-width="1.03"/>
<ellipse cx="295" cy="362.2" rx="2.1" ry="2.6" transform="rotate(-10 295 362.2)" fill="#fff" stroke="#1c1c1c" stroke-width="1.03"/>
<line x1="261.2" y1="342.5" x2="276.2" y2="343.7" stroke="#1c1c1c" stroke-width="0.92"/>
<path d="M315,331.2 L326.2,323.7 L348.7,339.5 L348.7,343 L333,352 L316.2,340 Z" fill="#fff" stroke="#1c1c1c" stroke-width="1.26" />
<path d="M315,331.2 L332.5,343.9 L343,338 L326.2,325.8 M332.5,343.9 L333,352 M343,338 L348.7,341" fill="none" stroke="#1c1c1c" stroke-width="1.03" />
<ellipse cx="316.8" cy="337" rx="1.7" ry="2.2" transform="rotate(-10 316.8 337)" fill="#fff" stroke="#1c1c1c" stroke-width="1.03"/>
<ellipse cx="326.3" cy="345.8" rx="2.0" ry="2.5" transform="rotate(-10 326.3 345.8)" fill="#fff" stroke="#1c1c1c" stroke-width="1.03"/>
<ellipse cx="345" cy="338.9" rx="1.5" ry="0.9" transform="rotate(20 345 338.9)" fill="#333" stroke="#1c1c1c" stroke-width="0.69"/>
<ellipse cx="325.5" cy="327.5" rx="1.3" ry="0.8" transform="rotate(20 325.5 327.5)" fill="#333" stroke="#1c1c1c" stroke-width="0.69"/>
<line x1="333.7" y1="316.8" x2="333.7" y2="327.5" stroke="#1c1c1c" stroke-width="0.92"/>
<line x1="347.5" y1="327.5" x2="345" y2="337.5" stroke="#1c1c1c" stroke-width="0.8"/>
<path d="M252,367 L281.2,355.6" fill="none" stroke="#1c1c1c" stroke-width="5.92" stroke-linecap="butt" stroke-linejoin="round"/>
<path d="M252,367 L281.2,355.6" fill="none" stroke="#fff" stroke-width="3.8" stroke-linecap="butt" stroke-linejoin="round"/>
<line x1="268.7" y1="358.40000000000003" x2="270.3" y2="362.2" stroke="#1c1c1c" stroke-width="0.57"/>
<line x1="270.3" y1="357.78000000000003" x2="271.90000000000003" y2="361.58" stroke="#1c1c1c" stroke-width="0.57"/>
<line x1="271.9" y1="357.16" x2="273.5" y2="360.96" stroke="#1c1c1c" stroke-width="0.57"/>
<line x1="273.5" y1="356.54" x2="275.1" y2="360.34" stroke="#1c1c1c" stroke-width="0.57"/>
<line x1="275.09999999999997" y1="355.92" x2="276.7" y2="359.71999999999997" stroke="#1c1c1c" stroke-width="0.57"/>
<line x1="276.7" y1="355.3" x2="278.3" y2="359.09999999999997" stroke="#1c1c1c" stroke-width="0.57"/>
<line x1="278.3" y1="354.68" x2="279.90000000000003" y2="358.47999999999996" stroke="#1c1c1c" stroke-width="0.57"/>
<path d="M243,367 L245,363.6 L249.4,363 L252.4,365.4 L252.6,369.8 L250.2,373 L246,373.6 L243.2,371 Z" fill="#fff" stroke="#1c1c1c" stroke-width="1.26" />
<ellipse cx="246.6" cy="368.8" rx="2.7" ry="3.4" transform="rotate(-15 246.6 368.8)" fill="#fff" stroke="#1c1c1c" stroke-width="0.92"/>
<path d="M252.4,363.6 C254.6,365.4 254.8,371 253,373" fill="none" stroke="#1c1c1c" stroke-width="1.03" />
<line x1="266.2" y1="368.7" x2="266.2" y2="374" stroke="#1c1c1c" stroke-width="0.92"/>
<path d="M154.5,384.5 L154.5,400 C155,414 166,422 178,431 C192,441 200.5,449 198,459 L191.5,478" fill="none" stroke="#1c1c1c" stroke-width="14.1" stroke-linecap="butt" stroke-linejoin="round"/>
<path d="M154.5,384.5 L154.5,400 C155,414 166,422 178,431 C192,441 200.5,449 198,459 L191.5,478" fill="none" stroke="#fff" stroke-width="11.6" stroke-linecap="butt" stroke-linejoin="round"/>
<ellipse cx="154.5" cy="384.6" rx="5.8" ry="1.8" transform="rotate(0 154.5 384.6)" fill="#fff" stroke="#1c1c1c" stroke-width="1.03"/>
<path d="M152.5,381.8 L153.5,384.8 L156.5,382.6" fill="none" stroke="#1c1c1c" stroke-width="0.8" />
<line x1="189.6" y1="413.3" x2="189.6" y2="427" stroke="#1c1c1c" stroke-width="0.92"/>
<ellipse cx="202" cy="482.2" rx="5.0" ry="6.2" transform="rotate(-20 202 482.2)" fill="#fff" stroke="#1c1c1c" stroke-width="1.72"/>
<ellipse cx="202.46984631039297" cy="482.0289899283372" rx="2.0" ry="2.4800000000000004" transform="rotate(-20 202.46984631039297 482.0289899283372)" fill="#fff" stroke="#1c1c1c" stroke-width="1.03"/>
<path d="M178.5,488 C178.5,482 183,479 188,480 L192.5,481.5 C197,483.5 198.5,488.5 197.5,493 C196.5,497.5 193,500 189,499.5 L185,498.8 C180.5,497.5 178.5,493.5 178.5,488 Z" fill="#fff" stroke="#1c1c1c" stroke-width="1.38" />
<ellipse cx="185" cy="490.2" rx="6.3" ry="8.8" transform="rotate(-15 185 490.2)" fill="#fff" stroke="#1c1c1c" stroke-width="1.26"/>
<ellipse cx="184.3" cy="490.4" rx="2.8" ry="3.8" transform="rotate(-15 184.3 490.4)" fill="#fff" stroke="#1c1c1c" stroke-width="1.03"/>
<ellipse cx="174" cy="495" rx="5.2" ry="6.5" transform="rotate(-20 174 495)" fill="#fff" stroke="#1c1c1c" stroke-width="1.72"/>
<ellipse cx="174.46984631039297" cy="494.8289899283372" rx="2.08" ry="2.6" transform="rotate(-20 174.46984631039297 494.8289899283372)" fill="#fff" stroke="#1c1c1c" stroke-width="1.03"/>
<path d="M151,502.8 L161,499.6" fill="none" stroke="#1c1c1c" stroke-width="7.44" stroke-linecap="butt" stroke-linejoin="round"/>
<path d="M151,502.8 L161,499.6" fill="none" stroke="#fff" stroke-width="5.2" stroke-linecap="butt" stroke-linejoin="round"/>
<path d="M160,499.9 L169.5,496.8" fill="none" stroke="#1c1c1c" stroke-width="7.44" stroke-linecap="butt" stroke-linejoin="round"/>
<path d="M160,499.9 L169.5,496.8" fill="none" stroke="#666" stroke-width="5.2" stroke-linecap="butt" stroke-linejoin="round"/>
<line x1="161.2752278736626" y1="502.21879865444026" x2="160.8028971263374" y2="496.90307634555967" stroke="#cfcfcf" stroke-width="0.52"/>
<line x1="162.7596028736626" y1="501.73442365444026" x2="162.2872721263374" y2="496.41870134555967" stroke="#cfcfcf" stroke-width="0.52"/>
<line x1="164.2439778736626" y1="501.25004865444026" x2="163.7716471263374" y2="495.93432634555967" stroke="#cfcfcf" stroke-width="0.52"/>
<line x1="165.7283528736626" y1="500.7656736544403" x2="165.2560221263374" y2="495.4499513455597" stroke="#cfcfcf" stroke-width="0.52"/>
<line x1="167.2127278736626" y1="500.2812986544403" x2="166.7403971263374" y2="494.9655763455597" stroke="#cfcfcf" stroke-width="0.52"/>
<line x1="168.6971028736626" y1="499.7969236544403" x2="168.2247721263374" y2="494.4812013455597" stroke="#cfcfcf" stroke-width="0.52"/>
<line x1="154.3" y1="483.4" x2="154.3" y2="498.5" stroke="#1c1c1c" stroke-width="0.92"/>
<ellipse cx="146" cy="505.4" rx="5.6" ry="6.8" transform="rotate(20 146 505.4)" fill="#fff" stroke="#1c1c1c" stroke-width="1.26"/>
<path d="M150.4,501 C152.7,503 153,508 150.7,511" fill="none" stroke="#1c1c1c" stroke-width="0.92" />
<line x1="154.5" y1="502" x2="157" y2="504.5" stroke="#1c1c1c" stroke-width="0.8"/>
<path d="M176.6,500.5 L176.6,514.4 M176.6,507.3 L204.8,507.3 L204.8,489.5" fill="none" stroke="#1c1c1c" stroke-width="1.03" />
<rect x="156" y="534" width="59.2" height="55.2" fill="#fff" stroke="#1c1c1c" stroke-width="1.7"/>
<line x1="199" y1="552" x2="199" y2="560" stroke="#1c1c1c" stroke-width="0.92"/>
<path d="M171.4,552.0 C171.4,550.0 172.8,549.0 174.4,549.4 L181.0,551.2 C182.4,551.7 183.0,552.7 183.0,554.2 L183.0,562.4 C187.0,563.4 188.8,567.4 187.8,571.0 C186.8,575.0 182.8,577.4 178.8,576.6 C174.4,575.6 171.8,572.0 171.6,567.0 Z" fill="#fff" stroke="#1c1c1c" stroke-width="1.26" />
<path d="M168,553 C168,551 169.4,550 171,550.4 L177.6,552.2 C179,552.7 179.6,553.7 179.6,555.2 L179.6,563.4 C183.6,564.4 185.4,568.4 184.4,572 C183.4,576 179.4,578.4 175.4,577.6 C171,576.6 168.4,573 168.2,568 Z" fill="#fff" stroke="#1c1c1c" stroke-width="1.26" />
<ellipse cx="177.4" cy="570.4" rx="4.2" ry="4.4" transform="rotate(0 177.4 570.4)" fill="#fff" stroke="#1c1c1c" stroke-width="1.15"/>
<path d="M173.2,569 L168.4,567 M181.6,571 L184.6,572.2" fill="none" stroke="#1c1c1c" stroke-width="0.92" />
<path d="M177.4,566 C179.4,565 182.6,565.4 184,567" fill="none" stroke="#1c1c1c" stroke-width="0.92" />
<ellipse cx="174.6" cy="557.4" rx="1.6" ry="1.9" transform="rotate(0 174.6 557.4)" fill="#fff" stroke="#1c1c1c" stroke-width="0.92"/>
<line x1="172.3" y1="544.8" x2="172.3" y2="549.8" stroke="#1c1c1c" stroke-width="0.92"/>
<path d="M187.3,561.6 L196,565.6" fill="none" stroke="#1c1c1c" stroke-width="6.6" stroke-linecap="butt" stroke-linejoin="round"/>
<path d="M187.3,561.6 L196,565.6" fill="none" stroke="#888" stroke-width="4.6" stroke-linecap="butt" stroke-linejoin="round"/>
<line x1="186.9218495498465" y1="563.9575889827258" x2="189.93370600570904" y2="560.2794480543112" stroke="#cfcfcf" stroke-width="0.52"/>
<line x1="188.53296066095763" y1="564.6983297234666" x2="191.54481711682016" y2="561.0201887950519" stroke="#cfcfcf" stroke-width="0.52"/>
<line x1="190.14407177206874" y1="565.4390704642074" x2="193.15592822793127" y2="561.7609295357927" stroke="#cfcfcf" stroke-width="0.52"/>
<line x1="191.75518288317986" y1="566.1798112049481" x2="194.76703933904238" y2="562.5016702765334" stroke="#cfcfcf" stroke-width="0.52"/>
<line x1="193.36629399429097" y1="566.9205519456889" x2="196.3781504501535" y2="563.2424110172742" stroke="#cfcfcf" stroke-width="0.52"/>
<path d="M196.7,562.4 L201,561.4 L204.8,564.4 L205.2,569.4 L202.2,572.6 L197.8,572.4 L195.6,569 Z" fill="#fff" stroke="#1c1c1c" stroke-width="1.15" />
<ellipse cx="200.8" cy="567" rx="2.9" ry="3.5" transform="rotate(-10 200.8 567)" fill="#fff" stroke="#1c1c1c" stroke-width="0.92"/>
<path d="M196.4,560.6 C194.2,562.8 193.6,568.8 195.6,572" fill="none" stroke="#1c1c1c" stroke-width="1.03" />
<path d="M298.5,166.5 L317,183 L385.6,27.5 L442.5,79.8" fill="none" stroke="#1c1c1c" stroke-width="1.03" />
<path d="M336,145 L356,88.4 L378,106" fill="none" stroke="#1c1c1c" stroke-width="1.03" />
<path d="M377.5,108 C386,113.5 398,114 410,110.5 L452,96" fill="none" stroke="#1c1c1c" stroke-width="12.7" stroke-linecap="butt" stroke-linejoin="round"/>
<path d="M377.5,108 C386,113.5 398,114 410,110.5 L452,96" fill="none" stroke="#fff" stroke-width="10.2" stroke-linecap="butt" stroke-linejoin="round"/>
<path d="M373.6,110.2 C375,105 379,102.2 382.6,103.4" fill="#fff" stroke="#1c1c1c" stroke-width="1.15" />
<line x1="391" y1="97.2" x2="391" y2="105.5" stroke="#1c1c1c" stroke-width="0.92"/>
<ellipse cx="447" cy="83.2" rx="6.9" ry="4.4" transform="rotate(-45 447 83.2)" fill="#fff" stroke="#1c1c1c" stroke-width="1.72"/>
<ellipse cx="447.0" cy="83.2" rx="3.45" ry="2.2" transform="rotate(-45 447.0 83.2)" fill="#fff" stroke="#1c1c1c" stroke-width="1.03"/>
<path d="M449,90 C450,85.5 454.5,84 458,85.5 L464,88.8 C467.5,91 468,96 465.5,99.5 C463.5,102.5 459.5,103 457,101.5 L452,98.5 C449.5,97 448.5,93.5 449,90 Z" fill="#fff" stroke="#1c1c1c" stroke-width="1.26" />
<ellipse cx="461.8" cy="95.2" rx="6.4" ry="4.6" transform="rotate(-49 461.8 95.2)" fill="#fff" stroke="#1c1c1c" stroke-width="1.15"/>
<ellipse cx="462.2" cy="95.5" rx="3.6" ry="2.4" transform="rotate(-49 462.2 95.5)" fill="#fff" stroke="#1c1c1c" stroke-width="0.92"/>
<ellipse cx="467.5" cy="101.2" rx="6.9" ry="4.4" transform="rotate(-45 467.5 101.2)" fill="#fff" stroke="#1c1c1c" stroke-width="1.72"/>
<ellipse cx="467.5" cy="101.2" rx="3.45" ry="2.2" transform="rotate(-45 467.5 101.2)" fill="#fff" stroke="#1c1c1c" stroke-width="1.03"/>
<path d="M462,59.8 L462,68.5 M451.7,77.5 L451.7,68.5 L472,68.5 L472,96" fill="none" stroke="#1c1c1c" stroke-width="1.03" />
<path d="M473.5,109.5 L481,116.3" fill="none" stroke="#1c1c1c" stroke-width="9.24" stroke-linecap="butt" stroke-linejoin="round"/>
<path d="M473.5,109.5 L481,116.3" fill="none" stroke="#808080" stroke-width="7.0" stroke-linecap="butt" stroke-linejoin="round"/>
<line x1="471.6768110988596" y1="112.57138482441255" x2="477.26763334558484" y2="108.19157813855043" stroke="#cfcfcf" stroke-width="0.52"/>
<line x1="473.0656999877485" y1="113.8306440836718" x2="478.6565222344737" y2="109.45083739780968" stroke="#cfcfcf" stroke-width="0.52"/>
<line x1="474.4545888766374" y1="115.08990334293107" x2="480.0454111233626" y2="110.71009665706895" stroke="#cfcfcf" stroke-width="0.52"/>
<line x1="475.8434777655263" y1="116.34916260219032" x2="481.4343000122515" y2="111.9693559163282" stroke="#cfcfcf" stroke-width="0.52"/>
<line x1="477.23236665441516" y1="117.60842186144957" x2="482.8231889011404" y2="113.22861517558745" stroke="#cfcfcf" stroke-width="0.52"/>
<path d="M480,115.4 L485,119.5" fill="none" stroke="#1c1c1c" stroke-width="7.640000000000001" stroke-linecap="butt" stroke-linejoin="round"/>
<path d="M480,115.4 L485,119.5" fill="none" stroke="#fff" stroke-width="5.4" stroke-linecap="butt" stroke-linejoin="round"/>
<ellipse cx="486.4573097367523" cy="120.56149333651446" rx="6.2" ry="4.2" transform="rotate(-40 486.4573097367523 120.56149333651446)" fill="#fff" stroke="#1c1c1c" stroke-width="1.15"/>
<path d="M492.75,118.41 l-1.54,-1.84 M483.25,126.39 l-1.54,-1.84" fill="none" stroke="#1c1c1c" stroke-width="1.15" />
<ellipse cx="488" cy="122.4" rx="6.2" ry="4.2" transform="rotate(-40 488 122.4)" fill="#fff" stroke="#1c1c1c" stroke-width="1.26"/>
<line x1="490" y1="106.5" x2="490" y2="115.5" stroke="#1c1c1c" stroke-width="0.92"/>
<path d="M386.8,146 L375.4,179" fill="none" stroke="#1c1c1c" stroke-width="6.5200000000000005" stroke-linecap="butt" stroke-linejoin="round"/>
<path d="M386.8,146 L375.4,179" fill="none" stroke="#fff" stroke-width="4.4" stroke-linecap="butt" stroke-linejoin="round"/>
<line x1="377.1" y1="167.0" x2="381.5" y2="168.4" stroke="#1c1c1c" stroke-width="0.57"/>
<line x1="376.548" y1="168.6" x2="380.948" y2="170.0" stroke="#1c1c1c" stroke-width="0.57"/>
<line x1="375.99600000000004" y1="170.2" x2="380.396" y2="171.6" stroke="#1c1c1c" stroke-width="0.57"/>
<line x1="375.444" y1="171.8" x2="379.844" y2="173.20000000000002" stroke="#1c1c1c" stroke-width="0.57"/>
<line x1="374.892" y1="173.4" x2="379.292" y2="174.8" stroke="#1c1c1c" stroke-width="0.57"/>
<line x1="374.34000000000003" y1="175.0" x2="378.74" y2="176.4" stroke="#1c1c1c" stroke-width="0.57"/>
<line x1="373.788" y1="176.6" x2="378.188" y2="178.0" stroke="#1c1c1c" stroke-width="0.57"/>
<path d="M383.2,139.2 L385.4,136.6 L390.6,137 L392.8,139.6 L392.2,143 L383.4,142.6 Z" fill="#fff" stroke="#1c1c1c" stroke-width="1.15" />
<path d="M385.4,136.6 L386,139.6 L385.6,142.8 M386,139.6 L392.8,139.8" fill="none" stroke="#1c1c1c" stroke-width="0.69" />
<path d="M382.4,142.6 C382.4,146 385,147.8 388,147.8 C391,147.8 393.4,146 393.2,143 Z" fill="#fff" stroke="#1c1c1c" stroke-width="1.15" />
<line x1="394" y1="141.5" x2="399" y2="141.5" stroke="#1c1c1c" stroke-width="0.92"/>
<ellipse cx="363.3" cy="231.7" rx="7.8" ry="4.4" transform="rotate(-28 363.3 231.7)" fill="#fff" stroke="#1c1c1c" stroke-width="1.95"/>
<ellipse cx="363.3" cy="231.7" rx="4.29" ry="2.4200000000000004" transform="rotate(-28 363.3 231.7)" fill="#fff" stroke="#1c1c1c" stroke-width="1.03"/>
<line x1="367.5" y1="216" x2="367.5" y2="226.8" stroke="#1c1c1c" stroke-width="0.92"/>
<path d="M366.5,235.3 L373.5,242" fill="none" stroke="#1c1c1c" stroke-width="9.440000000000001" stroke-linecap="butt" stroke-linejoin="round"/>
<path d="M366.5,235.3 L373.5,242" fill="none" stroke="#555" stroke-width="7.2" stroke-linecap="butt" stroke-linejoin="round"/>
<line x1="364.4847118495915" y1="238.3543480352749" x2="370.33010296522326" y2="233.98268900176217" stroke="#cfcfcf" stroke-width="0.52"/>
<line x1="365.7810081458878" y1="239.59508877601564" x2="371.62639926151957" y2="235.2234297425029" stroke="#cfcfcf" stroke-width="0.52"/>
<line x1="367.07730444218413" y1="240.83582951675638" x2="372.92269555781587" y2="236.46417048324363" stroke="#cfcfcf" stroke-width="0.52"/>
<line x1="368.37360073848043" y1="242.0765702574971" x2="374.2189918541122" y2="237.70491122398437" stroke="#cfcfcf" stroke-width="0.52"/>
<line x1="369.66989703477674" y1="243.31731099823784" x2="375.5152881504085" y2="238.9456519647251" stroke="#cfcfcf" stroke-width="0.52"/>
<path d="M370.5,245.5 L377,238.6 L387.5,247.5 L387.5,252 L382.5,257.2 L378,256.4 L370.5,250.2 Z" fill="#fff" stroke="#1c1c1c" stroke-width="1.15" />
<path d="M377,238.6 L377.4,243 L370.5,250.2 M377.4,243 L387.5,252" fill="none" stroke="#1c1c1c" stroke-width="0.8" />
<ellipse cx="382.6" cy="252.6" rx="5.2" ry="4.0" transform="rotate(-42 382.6 252.6)" fill="#333" stroke="#1c1c1c" stroke-width="1.15"/>
<line x1="385" y1="235.8" x2="385" y2="245.5" stroke="#1c1c1c" stroke-width="0.92"/>
<path d="M417.2,220.7 L417.2,225.8 M405.5,244 L405.5,225.8 L434,225.8 L434,233" fill="none" stroke="#1c1c1c" stroke-width="1.03" />
<ellipse cx="407.2" cy="251" rx="4.8" ry="6.8" transform="rotate(-23 407.2 251)" fill="#fff" stroke="#1c1c1c" stroke-width="1.72"/>
<ellipse cx="407.2" cy="251.0" rx="2.4" ry="3.4" transform="rotate(-23 407.2 251.0)" fill="#fff" stroke="#1c1c1c" stroke-width="1.03"/>
<path d="M433,255 L474.2,296" fill="none" stroke="#1c1c1c" stroke-width="5.5" stroke-linecap="butt" stroke-linejoin="round"/>
<path d="M433,255 L474.2,296" fill="none" stroke="#fff" stroke-width="3.5" stroke-linecap="butt" stroke-linejoin="round"/>
<ellipse cx="474.4" cy="296.2" rx="1.0" ry="2.1" transform="rotate(-45 474.4 296.2)" fill="#fff" stroke="#1c1c1c" stroke-width="0.8"/>
<path d="M427.5,249.5 L434.5,255.8 L432,259 L425,253 Z" fill="#fff" stroke="#1c1c1c" stroke-width="1.03" />
<ellipse cx="420.6" cy="244.8" rx="6.6" ry="9.2" transform="rotate(-23 420.6 244.8)" fill="#fff" stroke="#1c1c1c" stroke-width="1.26"/>
<ellipse cx="418.2" cy="245.8" rx="6.6" ry="9.2" transform="rotate(-23 418.2 245.8)" fill="#fff" stroke="#1c1c1c" stroke-width="1.38"/>
<ellipse cx="418.4" cy="245.9" rx="3.6" ry="5.4" transform="rotate(-23 418.4 245.9)" fill="#fff" stroke="#1c1c1c" stroke-width="1.15"/>
<path d="M416.6,250.4 A3.6,5.4 -23 0 1 416.4,241.6" fill="none" stroke="#1c1c1c" stroke-width="0.8" />
<ellipse cx="434.5" cy="238.9" rx="4.8" ry="6.8" transform="rotate(-23 434.5 238.9)" fill="#fff" stroke="#1c1c1c" stroke-width="1.72"/>
<ellipse cx="434.5" cy="238.9" rx="2.4" ry="3.4" transform="rotate(-23 434.5 238.9)" fill="#fff" stroke="#1c1c1c" stroke-width="1.03"/>
<path d="M440.2,236.4 L452,231.2" fill="none" stroke="#1c1c1c" stroke-width="9.84" stroke-linecap="butt" stroke-linejoin="round"/>
<path d="M440.2,236.4 L452,231.2" fill="none" stroke="#858585" stroke-width="7.6" stroke-linecap="butt" stroke-linejoin="round"/>
<line x1="442.2995461178532" y1="239.62739060672885" x2="440.33288631457924" y2="232.18882560948737" stroke="#cfcfcf" stroke-width="0.52"/>
<line x1="443.8941407124478" y1="238.92468790402614" x2="441.9274809091738" y2="231.48612290678466" stroke="#cfcfcf" stroke-width="0.52"/>
<line x1="445.48873530704236" y1="238.22198520132343" x2="443.5220755037684" y2="230.78342020408195" stroke="#cfcfcf" stroke-width="0.52"/>
<line x1="447.083329901637" y1="237.51928249862075" x2="445.11667009836304" y2="230.08071750137927" stroke="#cfcfcf" stroke-width="0.52"/>
<line x1="448.6779244962316" y1="236.81657979591805" x2="446.7112646929576" y2="229.37801479867656" stroke="#cfcfcf" stroke-width="0.52"/>
<line x1="450.27251909082617" y1="236.11387709321534" x2="448.3058592875522" y2="228.67531209597385" stroke="#cfcfcf" stroke-width="0.52"/>
<line x1="451.86711368542075" y1="235.41117439051263" x2="449.9004538821468" y2="227.97260939327114" stroke="#cfcfcf" stroke-width="0.52"/>
<path d="M451,231.6 L459,228.2" fill="none" stroke="#1c1c1c" stroke-width="8.04" stroke-linecap="butt" stroke-linejoin="round"/>
<path d="M451,231.6 L459,228.2" fill="none" stroke="#fff" stroke-width="5.8" stroke-linecap="butt" stroke-linejoin="round"/>
<circle cx="455" cy="230" r="0.8" fill="#fff" stroke="#1c1c1c" stroke-width="0.69"/>
<ellipse cx="461" cy="227.8" rx="4.6" ry="7.6" transform="rotate(-23 461 227.8)" fill="#fff" stroke="#1c1c1c" stroke-width="1.15"/>
<path d="M458,220.8 L461,219.6 M464,234.8 L466.6,233.6" fill="none" stroke="#1c1c1c" stroke-width="1.15" />
<ellipse cx="463.8" cy="226.7" rx="4.6" ry="7.6" transform="rotate(-23 463.8 226.7)" fill="#fff" stroke="#1c1c1c" stroke-width="1.26"/>
<line x1="458.5" y1="216" x2="458.5" y2="220" stroke="#1c1c1c" stroke-width="0.92"/>
<line x1="451.5" y1="268.5" x2="459.5" y2="268.5" stroke="#1c1c1c" stroke-width="0.92"/>
<line x1="336" y1="280" x2="402.3" y2="253.4" stroke="#1c1c1c" stroke-width="0.92"/>
<line x1="385.5" y1="255" x2="455" y2="320" stroke="#1c1c1c" stroke-width="0.92"/>
<line x1="346" y1="256" x2="393" y2="303" stroke="#1c1c1c" stroke-width="0.92"/>
<path d="M408,306 L402.5,290.5 C401,286 398,284 394,285.5 L385,290 C380,292.5 377.5,297 375.5,303 L348.5,372 C346,378 346,382 348.5,386 L362,408 C365,413 365.5,417 363.5,422 L351,445 C349,449.5 351,453 355,452 L369,447.4" fill="none" stroke="#1c1c1c" stroke-width="5.44" stroke-linecap="butt" stroke-linejoin="round"/>
<path d="M408,306 L402.5,290.5 C401,286 398,284 394,285.5 L385,290 C380,292.5 377.5,297 375.5,303 L348.5,372 C346,378 346,382 348.5,386 L362,408 C365,413 365.5,417 363.5,422 L351,445 C349,449.5 351,453 355,452 L369,447.4" fill="none" stroke="#fff" stroke-width="3.2" stroke-linecap="butt" stroke-linejoin="round"/>
<line x1="361.7" y1="357.3" x2="371.5" y2="357.3" stroke="#1c1c1c" stroke-width="0.92"/>
<ellipse cx="398.3" cy="307.3" rx="6.5" ry="4.4" transform="rotate(-36 398.3 307.3)" fill="#fff" stroke="#1c1c1c" stroke-width="1.72"/>
<ellipse cx="398.3" cy="307.3" rx="3.25" ry="2.2" transform="rotate(-36 398.3 307.3)" fill="#fff" stroke="#1c1c1c" stroke-width="1.03"/>
<path d="M402,316 C401.5,311.5 405.5,308.5 409.5,309.5 L416.5,313 C419.5,315 420,319.5 418,323 C416,326 412.5,326.5 410,325.5 L404.5,322 C402.5,320.5 402,318.5 402,316 Z" fill="#fff" stroke="#1c1c1c" stroke-width="1.26" />
<ellipse cx="412.6" cy="321" rx="6.2" ry="4.0" transform="rotate(-37 412.6 321)" fill="#fff" stroke="#1c1c1c" stroke-width="1.03"/>
<ellipse cx="413" cy="321.3" rx="3.6" ry="2.1" transform="rotate(-37 413 321.3)" fill="#ddd" stroke="#1c1c1c" stroke-width="0.92"/>
<path d="M405.5,309.6 C404,306 405,303.5 407.5,303" fill="none" stroke="#1c1c1c" stroke-width="1.03" />
<ellipse cx="421.7" cy="326.7" rx="6.5" ry="4.4" transform="rotate(-36 421.7 326.7)" fill="#fff" stroke="#1c1c1c" stroke-width="1.72"/>
<ellipse cx="421.7" cy="326.7" rx="3.25" ry="2.2" transform="rotate(-36 421.7 326.7)" fill="#fff" stroke="#1c1c1c" stroke-width="1.03"/>
<path d="M395,312.9 L384.3,313.3 L389,319 M393.3,325.5 L408.3,333.3 L415,333.3" fill="none" stroke="#1c1c1c" stroke-width="0.92" />
<path d="M426,333.6 L435.5,342.6" fill="none" stroke="#1c1c1c" stroke-width="10.24" stroke-linecap="butt" stroke-linejoin="round"/>
<path d="M426,333.6 L435.5,342.6" fill="none" stroke="#808080" stroke-width="8.0" stroke-linecap="butt" stroke-linejoin="round"/>
<line x1="423.8525122980133" y1="337.07553894687686" x2="430.2256127019867" y2="332.0932110531232" stroke="#cfcfcf" stroke-width="0.52"/>
<line x1="425.3368872980133" y1="338.48178894687686" x2="431.7099877019867" y2="333.4994610531232" stroke="#cfcfcf" stroke-width="0.52"/>
<line x1="426.8212622980133" y1="339.88803894687686" x2="433.1943627019867" y2="334.9057110531232" stroke="#cfcfcf" stroke-width="0.52"/>
<line x1="428.3056372980133" y1="341.29428894687686" x2="434.6787377019867" y2="336.3119610531232" stroke="#cfcfcf" stroke-width="0.52"/>
<line x1="429.7900122980133" y1="342.70053894687686" x2="436.1631127019867" y2="337.7182110531232" stroke="#cfcfcf" stroke-width="0.52"/>
<line x1="431.2743872980133" y1="344.10678894687686" x2="437.6474877019867" y2="339.1244610531232" stroke="#cfcfcf" stroke-width="0.52"/>
<path d="M434.5,341.6 L442,348.5" fill="none" stroke="#1c1c1c" stroke-width="8.24" stroke-linecap="butt" stroke-linejoin="round"/>
<path d="M434.5,341.6 L442,348.5" fill="none" stroke="#fff" stroke-width="6.0" stroke-linecap="butt" stroke-linejoin="round"/>
<circle cx="437.6" cy="345" r="0.9" fill="#fff" stroke="#1c1c1c" stroke-width="0.69"/>
<ellipse cx="444.84554475428354" cy="350.0663763420652" rx="7.8" ry="5.2" transform="rotate(-38 444.84554475428354 350.0663763420652)" fill="#fff" stroke="#1c1c1c" stroke-width="1.15"/>
<path d="M452.35,347.00 l-1.35,-1.73 M440.05,356.60 l-1.35,-1.73" fill="none" stroke="#1c1c1c" stroke-width="1.15" />
<ellipse cx="446.2" cy="351.8" rx="7.8" ry="5.2" transform="rotate(-38 446.2 351.8)" fill="#fff" stroke="#1c1c1c" stroke-width="1.26"/>
<line x1="425" y1="350" x2="435" y2="350" stroke="#1c1c1c" stroke-width="0.92"/>
<ellipse cx="459.3" cy="323.3" rx="7.1" ry="4.4" transform="rotate(-36 459.3 323.3)" fill="#fff" stroke="#1c1c1c" stroke-width="1.72"/>
<ellipse cx="459.3" cy="323.3" rx="3.55" ry="2.2" transform="rotate(-36 459.3 323.3)" fill="#fff" stroke="#1c1c1c" stroke-width="1.03"/>
<path d="M462.5,336 L444,380 C442,385 442.5,388 445,392 L463,428" fill="none" stroke="#1c1c1c" stroke-width="5.24" stroke-linecap="butt" stroke-linejoin="round"/>
<path d="M462.5,336 L444,380 C442,385 442.5,388 445,392 L463,428" fill="none" stroke="#fff" stroke-width="3.0" stroke-linecap="butt" stroke-linejoin="round"/>
<path d="M458.6,331 C457.6,325.5 462.5,321.6 468,322.6 L473.6,324.6 C477.6,326.6 478.6,332 476,336.4 C473.4,340.2 469.4,341 466,339.6 L462,337.6 C459.8,336.2 459,333.6 458.6,331 Z" fill="#fff" stroke="#1c1c1c" stroke-width="1.32" />
<ellipse cx="472.2" cy="332.6" rx="5.8" ry="3.8" transform="rotate(-40 472.2 332.6)" fill="#fff" stroke="#1c1c1c" stroke-width="1.03"/>
<ellipse cx="472.6" cy="332.9" rx="3.2" ry="1.9" transform="rotate(-40 472.6 332.9)" fill="#999" stroke="#1c1c1c" stroke-width="0.8"/>
<ellipse cx="476.6" cy="338.4" rx="6.3" ry="4.4" transform="rotate(-35 476.6 338.4)" fill="#fff" stroke="#1c1c1c" stroke-width="1.72"/>
<ellipse cx="476.6" cy="338.4" rx="3.4650000000000003" ry="2.4200000000000004" transform="rotate(-35 476.6 338.4)" fill="#fff" stroke="#1c1c1c" stroke-width="1.03"/>
<ellipse cx="479.2" cy="341" rx="6.3" ry="4.4" transform="rotate(-35 479.2 341)" fill="#fff" stroke="#1c1c1c" stroke-width="1.72"/>
<ellipse cx="479.2" cy="341.0" rx="3.4650000000000003" ry="2.4200000000000004" transform="rotate(-35 479.2 341.0)" fill="#fff" stroke="#1c1c1c" stroke-width="1.03"/>
<path d="M480,341.4 L489,350.8" fill="none" stroke="#1c1c1c" stroke-width="10.24" stroke-linecap="butt" stroke-linejoin="round"/>
<path d="M480,341.4 L489,350.8" fill="none" stroke="#808080" stroke-width="8.0" stroke-linecap="butt" stroke-linejoin="round"/>
<line x1="477.6802000597313" y1="344.76102619038505" x2="484.2885499402687" y2="340.0952238096149" stroke="#cfcfcf" stroke-width="0.52"/>
<line x1="479.0864500597313" y1="346.22977619038505" x2="485.6947999402687" y2="341.5639738096149" stroke="#cfcfcf" stroke-width="0.52"/>
<line x1="480.4927000597313" y1="347.69852619038505" x2="487.1010499402687" y2="343.0327238096149" stroke="#cfcfcf" stroke-width="0.52"/>
<line x1="481.8989500597313" y1="349.1672761903851" x2="488.5072999402687" y2="344.50147380961494" stroke="#cfcfcf" stroke-width="0.52"/>
<line x1="483.3052000597313" y1="350.6360261903851" x2="489.9135499402687" y2="345.97022380961494" stroke="#cfcfcf" stroke-width="0.52"/>
<line x1="484.7114500597313" y1="352.1047761903851" x2="491.3197999402687" y2="347.43897380961494" stroke="#cfcfcf" stroke-width="0.52"/>
<path d="M488,349.8 L495,356" fill="none" stroke="#1c1c1c" stroke-width="8.24" stroke-linecap="butt" stroke-linejoin="round"/>
<path d="M488,349.8 L495,356" fill="none" stroke="#fff" stroke-width="6.0" stroke-linecap="butt" stroke-linejoin="round"/>
<circle cx="491" cy="352.6" r="0.9" fill="#fff" stroke="#1c1c1c" stroke-width="0.69"/>
<ellipse cx="497.24554475428357" cy="357.0663763420652" rx="7.8" ry="5.2" transform="rotate(-38 497.24554475428357 357.0663763420652)" fill="#fff" stroke="#1c1c1c" stroke-width="1.15"/>
<path d="M504.75,354.00 l-1.35,-1.73 M492.45,363.60 l-1.35,-1.73" fill="none" stroke="#1c1c1c" stroke-width="1.15" />
<ellipse cx="498.6" cy="358.8" rx="7.8" ry="5.2" transform="rotate(-38 498.6 358.8)" fill="#fff" stroke="#1c1c1c" stroke-width="1.26"/>
<path d="M471.7,310.7 L463.3,310.7 L463.3,318.3 M481.7,316.7 L481.7,335" fill="none" stroke="#1c1c1c" stroke-width="1.03" />
<line x1="486.7" y1="356.5" x2="486.7" y2="368.3" stroke="#1c1c1c" stroke-width="0.92"/>
<line x1="447" y1="391.2" x2="456.8" y2="391.2" stroke="#1c1c1c" stroke-width="0.92"/>
<line x1="400" y1="270" x2="455" y2="320" stroke="#1c1c1c" stroke-width="0.92"/>
<path d="M352.4,322 L350.6,330.4" fill="none" stroke="#1c1c1c" stroke-width="4.56" stroke-linecap="round" stroke-linejoin="round"/>
<path d="M352.4,322 L350.6,330.4" fill="none" stroke="#fff" stroke-width="2.8" stroke-linecap="round" stroke-linejoin="round"/>
<path d="M349.6,317.6 L351,316 L354.6,316.4 L355.8,318.2 L355.2,321 L353.2,322.4 L350.4,321.8 L349.4,319.8 Z" fill="#fff" stroke="#1c1c1c" stroke-width="1.03" />
<line x1="353.3" y1="307" x2="353.3" y2="315.5" stroke="#1c1c1c" stroke-width="0.92"/>
<path d="M258.5,489 C256.5,510 262,530 268,548 C272,562 277,579 284.5,583 C291,585.5 297,572 303,560 L326.5,514" fill="none" stroke="#1c1c1c" stroke-width="14.1" stroke-linecap="butt" stroke-linejoin="round"/>
<path d="M258.5,489 C256.5,510 262,530 268,548 C272,562 277,579 284.5,583 C291,585.5 297,572 303,560 L326.5,514" fill="none" stroke="#fff" stroke-width="11.6" stroke-linecap="butt" stroke-linejoin="round"/>
<g transform="translate(252.6 488.5) rotate(15.762147763972544)">
<rect x="0" y="-2.6" width="12.884486796143653" height="5.2" rx="1.5" fill="#fff" stroke="#1c1c1c" stroke-width="1"/>
<line x1="1" y1="-1.73" x2="11.884486796143653" y2="-1.73" stroke="#1c1c1c" stroke-width="0.9"/>
<line x1="1" y1="0.00" x2="11.884486796143653" y2="0.00" stroke="#1c1c1c" stroke-width="0.9"/>
<line x1="1" y1="1.73" x2="11.884486796143653" y2="1.73" stroke="#1c1c1c" stroke-width="0.9"/>
</g>
<g transform="translate(319.5 508.5) rotate(32.47119229084849)">
<rect x="0" y="-2.6" width="13.038404810405298" height="5.2" rx="1.5" fill="#fff" stroke="#1c1c1c" stroke-width="1"/>
<line x1="1" y1="-1.73" x2="12.038404810405298" y2="-1.73" stroke="#1c1c1c" stroke-width="0.9"/>
<line x1="1" y1="0.00" x2="12.038404810405298" y2="0.00" stroke="#1c1c1c" stroke-width="0.9"/>
<line x1="1" y1="1.73" x2="12.038404810405298" y2="1.73" stroke="#1c1c1c" stroke-width="0.9"/>
</g>
<path d="M264,551 C266,547.5 271,547 272.6,549.5 C274,552 271,554.5 268,554 M263.5,553.5 C266,556.5 272,556 274.5,553" fill="none" stroke="#1c1c1c" stroke-width="1.15" />
<path d="M247,554.5 L253.5,554.5 M261.1,545.5 L253.5,545.5 L253.5,563.6 L265.4,563.6" fill="none" stroke="#1c1c1c" stroke-width="1.03" />
<path d="M250.4,444.2 L250.4,452.6 L247,454.2 L247,464 M250.4,452.6 L273.9,465.4 L273.9,475.3" fill="none" stroke="#1c1c1c" stroke-width="1.03" />
<ellipse cx="248.4" cy="469" rx="6.9" ry="4.4" transform="rotate(-36 248.4 469)" fill="#fff" stroke="#1c1c1c" stroke-width="1.72"/>
<ellipse cx="248.4" cy="469.0" rx="3.45" ry="2.2" transform="rotate(-36 248.4 469.0)" fill="#fff" stroke="#1c1c1c" stroke-width="1.03"/>
<path d="M254,484 L254,490 L263.5,492.5 L264,485 Z" fill="#fff" stroke="#1c1c1c" stroke-width="1.03" />
<path d="M251.5,472 C251.5,466.5 256.5,463.5 261.5,464.5 L266,466.5 C270,469 270.5,474 268.5,478 C266.5,482 262.5,484.5 258.5,484 L255.5,483 C252.5,481.5 251.5,476.5 251.5,472 Z" fill="#fff" stroke="#1c1c1c" stroke-width="1.38" />
<ellipse cx="263.2" cy="476" rx="5.8" ry="3.9" transform="rotate(-38 263.2 476)" fill="#fff" stroke="#1c1c1c" stroke-width="1.15"/>
<ellipse cx="263.6" cy="476.3" rx="3.3" ry="2.0" transform="rotate(-38 263.6 476.3)" fill="#fff" stroke="#1c1c1c" stroke-width="0.92"/>
<ellipse cx="273" cy="481.8" rx="6.1" ry="4.4" transform="rotate(-36 273 481.8)" fill="#fff" stroke="#1c1c1c" stroke-width="1.72"/>
<ellipse cx="273.0" cy="481.8" rx="3.05" ry="2.2" transform="rotate(-36 273.0 481.8)" fill="#fff" stroke="#1c1c1c" stroke-width="1.03"/>
<path d="M279,485 L288,491.2" fill="none" stroke="#1c1c1c" stroke-width="10.24" stroke-linecap="butt" stroke-linejoin="round"/>
<path d="M279,485 L288,491.2" fill="none" stroke="#808080" stroke-width="8.0" stroke-linecap="butt" stroke-linejoin="round"/>
<line x1="277.22104949438784" y1="488.63177226229004" x2="282.74770050561216" y2="482.72447773771" stroke="#cfcfcf" stroke-width="0.52"/>
<line x1="278.62729949438784" y1="489.60052226229004" x2="284.15395050561216" y2="483.69322773771" stroke="#cfcfcf" stroke-width="0.52"/>
<line x1="280.03354949438784" y1="490.56927226229004" x2="285.56020050561216" y2="484.66197773771" stroke="#cfcfcf" stroke-width="0.52"/>
<line x1="281.43979949438784" y1="491.53802226229" x2="286.96645050561216" y2="485.63072773770995" stroke="#cfcfcf" stroke-width="0.52"/>
<line x1="282.84604949438784" y1="492.50677226229" x2="288.37270050561216" y2="486.59947773770995" stroke="#cfcfcf" stroke-width="0.52"/>
<line x1="284.25229949438784" y1="493.47552226229" x2="289.77895050561216" y2="487.56822773770995" stroke="#cfcfcf" stroke-width="0.52"/>
<path d="M287,490.5 L295,495.8" fill="none" stroke="#1c1c1c" stroke-width="8.24" stroke-linecap="butt" stroke-linejoin="round"/>
<path d="M287,490.5 L295,495.8" fill="none" stroke="#fff" stroke-width="6.0" stroke-linecap="butt" stroke-linejoin="round"/>
<ellipse cx="297.93813184002767" cy="496.19786550256424" rx="7.8" ry="5.4" transform="rotate(-35 297.93813184002767 496.19786550256424)" fill="#fff" stroke="#1c1c1c" stroke-width="1.15"/>
<path d="M305.59,493.53 l-1.26,-1.80 M292.81,502.47 l-1.26,-1.80" fill="none" stroke="#1c1c1c" stroke-width="1.15" />
<ellipse cx="299.2" cy="498" rx="7.8" ry="5.4" transform="rotate(-35 299.2 498)" fill="#fff" stroke="#1c1c1c" stroke-width="1.26"/>
<line x1="290" y1="499.5" x2="290" y2="507.8" stroke="#1c1c1c" stroke-width="0.92"/>
<path d="M337.6,469 L337.6,473.9 M326.2,483.8 L326.2,473.9 L348.3,473.9 L348.3,502.2" fill="none" stroke="#1c1c1c" stroke-width="1.03" />
<ellipse cx="322" cy="489.4" rx="6.9" ry="4.4" transform="rotate(-36 322 489.4)" fill="#fff" stroke="#1c1c1c" stroke-width="1.72"/>
<ellipse cx="322.0" cy="489.4" rx="3.45" ry="2.2" transform="rotate(-36 322.0 489.4)" fill="#fff" stroke="#1c1c1c" stroke-width="1.03"/>
<path d="M321.5,504 L319.8,509 L329.6,514.8 L332,509 Z" fill="#fff" stroke="#1c1c1c" stroke-width="1.03" />
<path d="M323,497 C323,491.5 328,488.5 333,489.5 L337.5,491.5 C341.5,494 342,499 340,503 C338,507 334,509.5 330,509 L327,508 C324,506.5 323,501.5 323,497 Z" fill="#fff" stroke="#1c1c1c" stroke-width="1.38" />
<ellipse cx="335" cy="500.8" rx="5.8" ry="3.9" transform="rotate(-38 335 500.8)" fill="#fff" stroke="#1c1c1c" stroke-width="1.15"/>
<ellipse cx="335.4" cy="501.1" rx="3.3" ry="2.0" transform="rotate(-38 335.4 501.1)" fill="#fff" stroke="#1c1c1c" stroke-width="0.92"/>
<ellipse cx="343.3" cy="508.5" rx="6.7" ry="4.4" transform="rotate(-36 343.3 508.5)" fill="#fff" stroke="#1c1c1c" stroke-width="1.95"/>
<ellipse cx="343.3" cy="508.5" rx="3.35" ry="2.2" transform="rotate(-36 343.3 508.5)" fill="#fff" stroke="#1c1c1c" stroke-width="1.03"/>
<path d="M347.8,515.4 L356.5,523" fill="none" stroke="#1c1c1c" stroke-width="10.24" stroke-linecap="butt" stroke-linejoin="round"/>
<path d="M347.8,515.4 L356.5,523" fill="none" stroke="#808080" stroke-width="8.0" stroke-linecap="butt" stroke-linejoin="round"/>
<line x1="345.6681287190338" y1="518.8489658207865" x2="351.83499628096627" y2="513.6135341792134" stroke="#cfcfcf" stroke-width="0.52"/>
<line x1="347.0275037190338" y1="520.0364658207865" x2="353.19437128096627" y2="514.8010341792134" stroke="#cfcfcf" stroke-width="0.52"/>
<line x1="348.3868787190338" y1="521.2239658207865" x2="354.55374628096627" y2="515.9885341792134" stroke="#cfcfcf" stroke-width="0.52"/>
<line x1="349.74625371903375" y1="522.4114658207866" x2="355.9131212809662" y2="517.1760341792135" stroke="#cfcfcf" stroke-width="0.52"/>
<line x1="351.10562871903375" y1="523.5989658207866" x2="357.2724962809662" y2="518.3635341792135" stroke="#cfcfcf" stroke-width="0.52"/>
<line x1="352.46500371903375" y1="524.7864658207866" x2="358.6318712809662" y2="519.5510341792135" stroke="#cfcfcf" stroke-width="0.52"/>
<path d="M355.6,522.2 L364,529.4" fill="none" stroke="#1c1c1c" stroke-width="8.24" stroke-linecap="butt" stroke-linejoin="round"/>
<path d="M355.6,522.2 L364,529.4" fill="none" stroke="#fff" stroke-width="6.0" stroke-linecap="butt" stroke-linejoin="round"/>
<circle cx="359" cy="525" r="0.9" fill="#fff" stroke="#1c1c1c" stroke-width="0.69"/>
<ellipse cx="366.5381318400277" cy="530.3978655025643" rx="8.0" ry="5.4" transform="rotate(-35 366.5381318400277 530.3978655025643)" fill="#fff" stroke="#1c1c1c" stroke-width="1.15"/>
<path d="M374.35,527.61 l-1.26,-1.80 M361.25,536.79 l-1.26,-1.80" fill="none" stroke="#1c1c1c" stroke-width="1.15" />
<ellipse cx="367.8" cy="532.2" rx="8.0" ry="5.4" transform="rotate(-35 367.8 532.2)" fill="#fff" stroke="#1c1c1c" stroke-width="1.26"/>
<line x1="366.7" y1="515" x2="366.7" y2="525" stroke="#1c1c1c" stroke-width="0.92"/>
<path d="M329.13,553.56 L333.05,549.64 L338.93,550.13 L342.36,554.05 L342.36,559.93 L338.44,563.85 L332.56,563.36 L329.13,559.44 Z" fill="#fff" stroke="#1c1c1c" stroke-width="1.26" />
<ellipse cx="334.324" cy="557.088" rx="4.9" ry="6.076" transform="rotate(-10 334.324 557.088)" fill="#fff" stroke="#1c1c1c" stroke-width="1.03"/>
<ellipse cx="334.324" cy="557.088" rx="2.548" ry="3.234" transform="rotate(-10 334.324 557.088)" fill="#fff" stroke="#1c1c1c" stroke-width="1.03"/>
<line x1="334" y1="565.5" x2="334" y2="569" stroke="#1c1c1c" stroke-width="0.92"/>
<ellipse cx="348.3" cy="555.2" rx="1.5" ry="2.0" transform="rotate(-10 348.3 555.2)" fill="#fff" stroke="#1c1c1c" stroke-width="1.15"/>
<line x1="349.3" y1="558" x2="349.3" y2="564" stroke="#1c1c1c" stroke-width="0.92"/>
<path d="M383,552 L440,547 C458,545.4 470,542 476,535.5" fill="none" stroke="#1c1c1c" stroke-width="12.7" stroke-linecap="round" stroke-linejoin="round"/>
<path d="M383,552 L440,547 C458,545.4 470,542 476,535.5" fill="none" stroke="#fff" stroke-width="10.2" stroke-linecap="round" stroke-linejoin="round"/>
<ellipse cx="478" cy="533" rx="2.6" ry="1.6" transform="rotate(-35 478 533)" fill="#fff" stroke="#1c1c1c" stroke-width="0.92"/>
<path d="M353.5,554 L360,553.4" fill="none" stroke="#1c1c1c" stroke-width="6.2" stroke-linecap="butt" stroke-linejoin="round"/>
<path d="M353.5,554 L360,553.4" fill="none" stroke="#777" stroke-width="4.2" stroke-linecap="butt" stroke-linejoin="round"/>
<path d="M358.5,549 L363,547.6 L366.5,549.5 L366.8,557 L363.5,559 L359,558 Z" fill="#fff" stroke="#1c1c1c" stroke-width="1.15" />
<line x1="363" y1="547.6" x2="363.3" y2="559" stroke="#1c1c1c" stroke-width="0.8"/>
<g transform="translate(366.8 553) rotate(-5.314545669944829)">
<rect x="0" y="-7.0" width="17.27425830535134" height="14.0" rx="1.5" fill="#fff" stroke="#1c1c1c" stroke-width="1"/>
<line x1="1" y1="-5.83" x2="16.27425830535134" y2="-5.83" stroke="#1c1c1c" stroke-width="0.9"/>
<line x1="1" y1="-3.50" x2="16.27425830535134" y2="-3.50" stroke="#1c1c1c" stroke-width="0.9"/>
<line x1="1" y1="-1.17" x2="16.27425830535134" y2="-1.17" stroke="#1c1c1c" stroke-width="0.9"/>
<line x1="1" y1="1.17" x2="16.27425830535134" y2="1.17" stroke="#1c1c1c" stroke-width="0.9"/>
<line x1="1" y1="3.50" x2="16.27425830535134" y2="3.50" stroke="#1c1c1c" stroke-width="0.9"/>
<line x1="1" y1="5.83" x2="16.27425830535134" y2="5.83" stroke="#1c1c1c" stroke-width="0.9"/>
</g>
<path d="M483,472 C490,480 496,490 496,500 C496,509 493.5,514 491.4,519" fill="none" stroke="#1c1c1c" stroke-width="12.7" stroke-linecap="round" stroke-linejoin="round"/>
<path d="M483,472 C490,480 496,490 496,500 C496,509 493.5,514 491.4,519" fill="none" stroke="#fff" stroke-width="10.2" stroke-linecap="round" stroke-linejoin="round"/>
<ellipse cx="490.6" cy="521.6" rx="2.5" ry="1.5" transform="rotate(20 490.6 521.6)" fill="#fff" stroke="#1c1c1c" stroke-width="0.92"/>
<path d="M473,449.5 L475.2,454" fill="none" stroke="#1c1c1c" stroke-width="5.6" stroke-linecap="butt" stroke-linejoin="round"/>
<path d="M473,449.5 L475.2,454" fill="none" stroke="#777" stroke-width="3.6" stroke-linecap="butt" stroke-linejoin="round"/>
<path d="M470.6,456 L476.4,451.8 L480.8,454.4 L482,459 L477,462.6 L472.6,461 Z" fill="#fff" stroke="#1c1c1c" stroke-width="1.15" />
<g transform="translate(477.8 460.5) rotate(61.1134182330893)">
<rect x="0" y="-6.6" width="16.560495161679196" height="13.2" rx="1.5" fill="#fff" stroke="#1c1c1c" stroke-width="1"/>
<line x1="1" y1="-5.28" x2="15.560495161679196" y2="-5.28" stroke="#1c1c1c" stroke-width="0.9"/>
<line x1="1" y1="-2.64" x2="15.560495161679196" y2="-2.64" stroke="#1c1c1c" stroke-width="0.9"/>
<line x1="1" y1="0.00" x2="15.560495161679196" y2="0.00" stroke="#1c1c1c" stroke-width="0.9"/>
<line x1="1" y1="2.64" x2="15.560495161679196" y2="2.64" stroke="#1c1c1c" stroke-width="0.9"/>
<line x1="1" y1="5.28" x2="15.560495161679196" y2="5.28" stroke="#1c1c1c" stroke-width="0.9"/>
</g>
<path d="M458.3,510.7 L468.3,510.7 M486.7,505 L468.3,505 L468.3,535" fill="none" stroke="#1c1c1c" stroke-width="1.03" />
<path d="M458.9,430.4 L462.9,426.4 L468.9,426.9 L472.4,430.9 L472.4,436.9 L468.4,440.9 L462.4,440.4 L458.9,436.4 Z" fill="#fff" stroke="#1c1c1c" stroke-width="1.26" />
<ellipse cx="464.2" cy="434.0" rx="5.0" ry="6.2" transform="rotate(-10 464.2 434.0)" fill="#fff" stroke="#1c1c1c" stroke-width="1.03"/>
<ellipse cx="464.2" cy="434.0" rx="2.6" ry="3.3" transform="rotate(-10 464.2 434.0)" fill="#fff" stroke="#1c1c1c" stroke-width="1.03"/>
<line x1="472.4" y1="427.5" x2="481" y2="427.5" stroke="#1c1c1c" stroke-width="0.92"/>
<ellipse cx="471" cy="444" rx="1.6" ry="2.1" transform="rotate(-10 471 444)" fill="#fff" stroke="#1c1c1c" stroke-width="1.26"/>
<line x1="475.2" y1="442.5" x2="488" y2="442.5" stroke="#1c1c1c" stroke-width="0.92"/>
<rect x="376" y="472.3" width="32.3" height="36" fill="#fff" stroke="#1c1c1c" stroke-width="1.6"/>
<path d="M383.3,481 L383.3,497 C383.3,503 388,505.5 392,504 C395.5,502.5 397,499.5 397.4,496.5" fill="none" stroke="#1c1c1c" stroke-width="3.26" stroke-linecap="butt" stroke-linejoin="round"/>
<path d="M383.3,481 L383.3,497 C383.3,503 388,505.5 392,504 C395.5,502.5 397,499.5 397.4,496.5" fill="none" stroke="#fff" stroke-width="1.5" stroke-linecap="butt" stroke-linejoin="round"/>
<path d="M381,478.2 L382.4,477 L385.2,477.2 L386.2,478.8 L385.4,480.8 L382.6,481.2 L381.2,480 Z" fill="#fff" stroke="#1c1c1c" stroke-width="0.92" />
<path d="M400,409 L400,414.4 M385,420 L385,414.4 L413.6,414.4 L413.6,437" fill="none" stroke="#1c1c1c" stroke-width="1.03" />
<ellipse cx="380.8" cy="427" rx="6.9" ry="4.4" transform="rotate(-36 380.8 427)" fill="#fff" stroke="#1c1c1c" stroke-width="1.72"/>
<ellipse cx="380.8" cy="427.0" rx="3.1050000000000004" ry="1.9800000000000002" transform="rotate(-36 380.8 427.0)" fill="#fff" stroke="#1c1c1c" stroke-width="1.03"/>
<path d="M390.5,437.4 L376,443.8" fill="none" stroke="#1c1c1c" stroke-width="5.52" stroke-linecap="butt" stroke-linejoin="round"/>
<path d="M390.5,437.4 L376,443.8" fill="none" stroke="#fff" stroke-width="3.4" stroke-linecap="butt" stroke-linejoin="round"/>
<ellipse cx="375.8" cy="443.9" rx="1.1" ry="2.2" transform="rotate(-25 375.8 443.9)" fill="#fff" stroke="#1c1c1c" stroke-width="0.8"/>
<path d="M391.2,430.7 L394.9,429 L396.4,440.2 L392.4,441.7 Z" fill="#fff" stroke="#1c1c1c" stroke-width="1.03" />
<circle cx="399.4" cy="434.2" r="8.6" fill="#fff" stroke="#1c1c1c" stroke-width="1.38"/>
<path d="M394.9,427.2 C392.4,431.2 393,438.7 396,442" fill="none" stroke="#1c1c1c" stroke-width="0.92" />
<ellipse cx="401.6" cy="436.8" rx="3.6" ry="3.1" transform="rotate(-20 401.6 436.8)" fill="#fff" stroke="#1c1c1c" stroke-width="1.03"/>
<path d="M398.8,438.2 A3.6,3.1 -20 0 1 400.1,434.2" fill="none" stroke="#1c1c1c" stroke-width="0.8" />
<ellipse cx="412" cy="441.6" rx="6.5" ry="4.4" transform="rotate(-36 412 441.6)" fill="#fff" stroke="#1c1c1c" stroke-width="1.72"/>
<ellipse cx="412.0" cy="441.6" rx="2.9250000000000003" ry="1.9800000000000002" transform="rotate(-36 412.0 441.6)" fill="#fff" stroke="#1c1c1c" stroke-width="1.03"/>
<path d="M416.6,444.6 L425.6,450.6" fill="none" stroke="#1c1c1c" stroke-width="10.24" stroke-linecap="butt" stroke-linejoin="round"/>
<path d="M416.6,444.6 L425.6,450.6" fill="none" stroke="#808080" stroke-width="8.0" stroke-linecap="butt" stroke-linejoin="round"/>
<line x1="414.86634403849644" y1="448.2516310596163" x2="420.3024059615036" y2="442.2608689403838" stroke="#cfcfcf" stroke-width="0.52"/>
<line x1="416.27259403849644" y1="449.1891310596163" x2="421.7086559615036" y2="443.1983689403838" stroke="#cfcfcf" stroke-width="0.52"/>
<line x1="417.67884403849644" y1="450.1266310596163" x2="423.1149059615036" y2="444.1358689403838" stroke="#cfcfcf" stroke-width="0.52"/>
<line x1="419.08509403849644" y1="451.0641310596163" x2="424.5211559615036" y2="445.0733689403838" stroke="#cfcfcf" stroke-width="0.52"/>
<line x1="420.49134403849644" y1="452.0016310596163" x2="425.9274059615036" y2="446.0108689403838" stroke="#cfcfcf" stroke-width="0.52"/>
<line x1="421.89759403849644" y1="452.9391310596163" x2="427.3336559615036" y2="446.9483689403838" stroke="#cfcfcf" stroke-width="0.52"/>
<path d="M424.6,450 L434,455.6" fill="none" stroke="#1c1c1c" stroke-width="8.24" stroke-linecap="butt" stroke-linejoin="round"/>
<path d="M424.6,450 L434,455.6" fill="none" stroke="#fff" stroke-width="6.0" stroke-linecap="butt" stroke-linejoin="round"/>
<circle cx="428.6" cy="452.4" r="0.9" fill="#fff" stroke="#1c1c1c" stroke-width="0.69"/>
<ellipse cx="437.1147022251383" cy="456.38586725868964" rx="7.4" ry="6.2" transform="rotate(-50 437.1147022251383 456.38586725868964)" fill="#fff" stroke="#1c1c1c" stroke-width="1.15"/>
<path d="M443.56,452.13 l-1.69,-1.41 M434.04,463.47 l-1.69,-1.41" fill="none" stroke="#1c1c1c" stroke-width="1.15" />
<ellipse cx="438.8" cy="457.8" rx="7.4" ry="6.2" transform="rotate(-50 438.8 457.8)" fill="#fff" stroke="#1c1c1c" stroke-width="1.26"/>
<line x1="424" y1="456.5" x2="424" y2="467" stroke="#1c1c1c" stroke-width="0.92"/>
<path d="M369,450 L369,453 L378,453 L378,449 M373.6,453 L373.6,457.5" fill="none" stroke="#1c1c1c" stroke-width="1.03" />
<path d="M229.5,253.5 C229.5,250 232,248.6 235,249 L243,250 L249,262 L259,276 L262,300 L258.5,313 C257,317 252,317 250,314 L240,306 L226,296 Z" fill="#fff" stroke="#1c1c1c" stroke-width="1.15" />
<ellipse cx="235.5" cy="255.3" rx="1.6" ry="2.1" transform="rotate(-10 235.5 255.3)" fill="#888" stroke="#1c1c1c" stroke-width="0.92"/>
<ellipse cx="255" cy="312.3" rx="1.6" ry="2.1" transform="rotate(-10 255 312.3)" fill="#888" stroke="#1c1c1c" stroke-width="0.92"/>
<path d="M274.5,238 L273,262 L268.5,272 L266,300 L270,312 L285,318 L300,316 L318,312 L338,300 L346,282 L352,250 L361,204 L361,199.5 Z" fill="#fff" stroke="#1c1c1c" stroke-width="1.15" />
<path d="M257.5,215.5 L276,236.5 L361,200 L349,186 L300,200 Z" fill="#fff" stroke="#1c1c1c" stroke-width="1.15" />
<path d="M276,236.5 L276.6,240.8 L361,204.3 L361,200" fill="#fff" stroke="#1c1c1c" stroke-width="1.38" />
<path d="M276,236.5 L361,200" fill="none" stroke="#1c1c1c" stroke-width="1.72" />
<path d="M257.5,215.5 L258,219.5 L276.6,240.5" fill="none" stroke="#1c1c1c" stroke-width="1.03" />
<g transform="rotate(5 281.5 230.5)">
<rect x="275.90" y="226.15" width="11.20" height="4.35" rx="1.5" fill="#fff" stroke="#1c1c1c" stroke-width="0.9"/>
<rect x="275.90" y="219.85" width="11.20" height="6.58" rx="1.5" fill="#484848" stroke="#1c1c1c" stroke-width="0.9"/>
<rect x="276.20" y="215.50" width="10.60" height="4.65" rx="1.5" fill="#fff" stroke="#1c1c1c" stroke-width="0.9"/>
<rect x="276.40" y="211.63" width="10.20" height="4.16" rx="1.5" fill="#4a4a4a" stroke="#1c1c1c" stroke-width="0.9"/>
<rect x="276.70" y="207.76" width="9.60" height="4.16" rx="1.5" fill="#fff" stroke="#1c1c1c" stroke-width="0.9"/>
<rect x="277.50" y="203.89" width="8.00" height="4.16" rx="1.5" fill="#444" stroke="#1c1c1c" stroke-width="0.9"/>
<rect x="279.00" y="200.50" width="5.00" height="3.68" rx="1.5" fill="#666" stroke="#1c1c1c" stroke-width="0.9"/>
<line x1="277.1" y1="222.76" x2="285.9" y2="222.76" stroke="#999" stroke-width="0.7"/>
<line x1="276.9" y1="217.73" x2="286.1" y2="217.73" stroke="#1c1c1c" stroke-width="0.6"/>
<line x1="277.3" y1="209.79" x2="285.7" y2="209.79" stroke="#1c1c1c" stroke-width="0.6"/>
</g>
<g transform="rotate(5 294.3 226.05)">
<rect x="288.70" y="221.57" width="11.20" height="4.48" rx="1.5" fill="#fff" stroke="#1c1c1c" stroke-width="0.9"/>
<rect x="288.70" y="215.10" width="11.20" height="6.77" rx="1.5" fill="#484848" stroke="#1c1c1c" stroke-width="0.9"/>
<rect x="289.00" y="210.62" width="10.60" height="4.78" rx="1.5" fill="#fff" stroke="#1c1c1c" stroke-width="0.9"/>
<rect x="289.20" y="206.64" width="10.20" height="4.28" rx="1.5" fill="#4a4a4a" stroke="#1c1c1c" stroke-width="0.9"/>
<rect x="289.50" y="202.66" width="9.60" height="4.28" rx="1.5" fill="#fff" stroke="#1c1c1c" stroke-width="0.9"/>
<rect x="290.30" y="198.68" width="8.00" height="4.28" rx="1.5" fill="#444" stroke="#1c1c1c" stroke-width="0.9"/>
<rect x="291.80" y="195.20" width="5.00" height="3.78" rx="1.5" fill="#666" stroke="#1c1c1c" stroke-width="0.9"/>
<line x1="289.90000000000003" y1="218.09" x2="298.7" y2="218.09" stroke="#999" stroke-width="0.7"/>
<line x1="289.7" y1="212.91" x2="298.90000000000003" y2="212.91" stroke="#1c1c1c" stroke-width="0.6"/>
<line x1="290.1" y1="204.75" x2="298.5" y2="204.75" stroke="#1c1c1c" stroke-width="0.6"/>
</g>
<g transform="rotate(5 307.1 221.6)">
<rect x="301.50" y="217.00" width="11.20" height="4.60" rx="1.5" fill="#fff" stroke="#1c1c1c" stroke-width="0.9"/>
<rect x="301.50" y="210.35" width="11.20" height="6.95" rx="1.5" fill="#484848" stroke="#1c1c1c" stroke-width="0.9"/>
<rect x="301.80" y="205.75" width="10.60" height="4.91" rx="1.5" fill="#fff" stroke="#1c1c1c" stroke-width="0.9"/>
<rect x="302.00" y="201.66" width="10.20" height="4.40" rx="1.5" fill="#4a4a4a" stroke="#1c1c1c" stroke-width="0.9"/>
<rect x="302.30" y="197.57" width="9.60" height="4.40" rx="1.5" fill="#fff" stroke="#1c1c1c" stroke-width="0.9"/>
<rect x="303.10" y="193.48" width="8.00" height="4.40" rx="1.5" fill="#444" stroke="#1c1c1c" stroke-width="0.9"/>
<rect x="304.60" y="189.90" width="5.00" height="3.89" rx="1.5" fill="#666" stroke="#1c1c1c" stroke-width="0.9"/>
<line x1="302.70000000000005" y1="213.42" x2="311.5" y2="213.42" stroke="#999" stroke-width="0.7"/>
<line x1="302.5" y1="208.10" x2="311.70000000000005" y2="208.10" stroke="#1c1c1c" stroke-width="0.6"/>
<line x1="302.90000000000003" y1="199.72" x2="311.3" y2="199.72" stroke="#1c1c1c" stroke-width="0.6"/>
</g>
<g transform="rotate(5 319.9 217.15)">
<rect x="314.30" y="212.43" width="11.20" height="4.72" rx="1.5" fill="#fff" stroke="#1c1c1c" stroke-width="0.9"/>
<rect x="314.30" y="205.60" width="11.20" height="7.14" rx="1.5" fill="#484848" stroke="#1c1c1c" stroke-width="0.9"/>
<rect x="314.60" y="200.88" width="10.60" height="5.04" rx="1.5" fill="#fff" stroke="#1c1c1c" stroke-width="0.9"/>
<rect x="314.80" y="196.68" width="10.20" height="4.51" rx="1.5" fill="#4a4a4a" stroke="#1c1c1c" stroke-width="0.9"/>
<rect x="315.10" y="192.48" width="9.60" height="4.51" rx="1.5" fill="#fff" stroke="#1c1c1c" stroke-width="0.9"/>
<rect x="315.90" y="188.28" width="8.00" height="4.51" rx="1.5" fill="#444" stroke="#1c1c1c" stroke-width="0.9"/>
<rect x="317.40" y="184.60" width="5.00" height="3.99" rx="1.5" fill="#666" stroke="#1c1c1c" stroke-width="0.9"/>
<line x1="315.5" y1="208.75" x2="324.29999999999995" y2="208.75" stroke="#999" stroke-width="0.7"/>
<line x1="315.29999999999995" y1="203.29" x2="324.5" y2="203.29" stroke="#1c1c1c" stroke-width="0.6"/>
<line x1="315.7" y1="194.68" x2="324.09999999999997" y2="194.68" stroke="#1c1c1c" stroke-width="0.6"/>
</g>
<g transform="rotate(5 332.7 212.7)">
<rect x="327.10" y="207.85" width="11.20" height="4.85" rx="1.5" fill="#fff" stroke="#1c1c1c" stroke-width="0.9"/>
<rect x="327.10" y="200.85" width="11.20" height="7.33" rx="1.5" fill="#484848" stroke="#1c1c1c" stroke-width="0.9"/>
<rect x="327.40" y="196.00" width="10.60" height="5.17" rx="1.5" fill="#fff" stroke="#1c1c1c" stroke-width="0.9"/>
<rect x="327.60" y="191.69" width="10.20" height="4.63" rx="1.5" fill="#4a4a4a" stroke="#1c1c1c" stroke-width="0.9"/>
<rect x="327.90" y="187.38" width="9.60" height="4.63" rx="1.5" fill="#fff" stroke="#1c1c1c" stroke-width="0.9"/>
<rect x="328.70" y="183.07" width="8.00" height="4.63" rx="1.5" fill="#444" stroke="#1c1c1c" stroke-width="0.9"/>
<rect x="330.20" y="179.30" width="5.00" height="4.09" rx="1.5" fill="#666" stroke="#1c1c1c" stroke-width="0.9"/>
<line x1="328.3" y1="204.08" x2="337.09999999999997" y2="204.08" stroke="#999" stroke-width="0.7"/>
<line x1="328.09999999999997" y1="198.48" x2="337.3" y2="198.48" stroke="#1c1c1c" stroke-width="0.6"/>
<line x1="328.5" y1="189.64" x2="336.9" y2="189.64" stroke="#1c1c1c" stroke-width="0.6"/>
</g>
<g transform="rotate(5 345.5 208.25)">
<rect x="339.90" y="203.28" width="11.20" height="4.97" rx="1.5" fill="#fff" stroke="#1c1c1c" stroke-width="0.9"/>
<rect x="339.90" y="196.10" width="11.20" height="7.51" rx="1.5" fill="#484848" stroke="#1c1c1c" stroke-width="0.9"/>
<rect x="340.20" y="191.12" width="10.60" height="5.30" rx="1.5" fill="#fff" stroke="#1c1c1c" stroke-width="0.9"/>
<rect x="340.40" y="186.71" width="10.20" height="4.75" rx="1.5" fill="#4a4a4a" stroke="#1c1c1c" stroke-width="0.9"/>
<rect x="340.70" y="182.29" width="9.60" height="4.75" rx="1.5" fill="#fff" stroke="#1c1c1c" stroke-width="0.9"/>
<rect x="341.50" y="177.87" width="8.00" height="4.75" rx="1.5" fill="#444" stroke="#1c1c1c" stroke-width="0.9"/>
<rect x="343.00" y="174.00" width="5.00" height="4.20" rx="1.5" fill="#666" stroke="#1c1c1c" stroke-width="0.9"/>
<line x1="341.1" y1="199.41" x2="349.9" y2="199.41" stroke="#999" stroke-width="0.7"/>
<line x1="340.9" y1="193.67" x2="350.1" y2="193.67" stroke="#1c1c1c" stroke-width="0.6"/>
<line x1="341.3" y1="184.61" x2="349.7" y2="184.61" stroke="#1c1c1c" stroke-width="0.6"/>
</g>
<path d="M330,228 L337,214 C340,210.5 348,209 353,211.5 C357,214 356.5,219 353.5,223 L347,231 L344.5,243 L337,247 L331,243 L333,234 Z" fill="#fff" stroke="#1c1c1c" stroke-width="1.15" />
<ellipse cx="347.8" cy="218.3" rx="4.3" ry="2.6" transform="rotate(-30 347.8 218.3)" fill="#fff" stroke="#1c1c1c" stroke-width="1.03"/>
<path d="M344.5,220.5 A4.3,2.6 -30 0 1 350.5,215.5" fill="none" stroke="#1c1c1c" stroke-width="0.92" />
<path d="M277.5,238.5 C276,243 274.5,247 274.8,252 C275,258 272,262 270,267 C268,273 268.5,280 269.5,286" fill="none" stroke="#1c1c1c" stroke-width="3.6" stroke-linecap="butt" stroke-linejoin="round"/>
<path d="M277.5,238.5 C276,243 274.5,247 274.8,252 C275,258 272,262 270,267 C268,273 268.5,280 269.5,286" fill="none" stroke="#fff" stroke-width="1.6" stroke-linecap="butt" stroke-linejoin="round"/>
<path d="M262,246.5 C262,244.5 263.5,243.8 265,244 L270,245.2 C271.6,245.6 272.2,247 272.2,248.5 L271.8,256 C271.6,258 270,258.6 268.5,258.2 L263.5,256.6 C262.2,256 262,255 262,253.5 Z" fill="#fff" stroke="#1c1c1c" stroke-width="1.15" />
<circle cx="263.9" cy="246.5" r="0.7" fill="#666" stroke="#1c1c1c" stroke-width="0.57"/>
<circle cx="270.2" cy="256.3" r="0.7" fill="#666" stroke="#1c1c1c" stroke-width="0.57"/>
<path d="M242.8,245.2 L242.8,251.6 C244.4,254.8 251,254.8 252.6,251.6 L252.6,245.2 Z" fill="#fff" stroke="#1c1c1c" stroke-width="1.15" />
<ellipse cx="247.7" cy="245.2" rx="4.9" ry="2.5" transform="rotate(0 247.7 245.2)" fill="#fff" stroke="#1c1c1c" stroke-width="1.15"/>
<path d="M283,243 L330,226 L336,232 L333,246 L300,258 L287,262 Z" fill="#fff" stroke="#1c1c1c" stroke-width="1.03" />
<path d="M296,247 L318,239 L322,244 L320,252 L300,259 Z" fill="#fff" stroke="#1c1c1c" stroke-width="0.92" />
<path d="M322,236 L332,232.5 L334,236 L324,240 Z" fill="#fff" stroke="#1c1c1c" stroke-width="0.92" />
<ellipse cx="294" cy="238.5" rx="6" ry="4.6" transform="rotate(-15 294 238.5)" fill="#fff" stroke="#1c1c1c" stroke-width="1.38"/>
<ellipse cx="294.6" cy="238.7" rx="3.4799999999999995" ry="2.6679999999999997" transform="rotate(-15 294.6 238.7)" fill="#333" stroke="#1c1c1c" stroke-width="1.03"/>
<ellipse cx="315" cy="239" rx="4" ry="3.2" transform="rotate(-20 315 239)" fill="#fff" stroke="#1c1c1c" stroke-width="1.03"/>
<path d="M274,262 L296,254 L300,259 L340,246 L344,262 L318,276 L296,282 L272,276 Z" fill="#fff" stroke="#1c1c1c" stroke-width="1.03" />
<path d="M296,262 L312,256 L316,262 L300,268 Z" fill="#fff" stroke="#1c1c1c" stroke-width="0.92" />
<ellipse cx="285" cy="265.8" rx="7.6" ry="5.6" transform="rotate(-15 285 265.8)" fill="#fff" stroke="#1c1c1c" stroke-width="1.38"/>
<ellipse cx="285.6" cy="266.0" rx="4.4079999999999995" ry="3.2479999999999998" transform="rotate(-15 285.6 266.0)" fill="#333" stroke="#1c1c1c" stroke-width="1.03"/>
<ellipse cx="305" cy="265.8" rx="6.6" ry="5.4" transform="rotate(-15 305 265.8)" fill="#fff" stroke="#1c1c1c" stroke-width="1.38"/>
<ellipse cx="305.6" cy="266.0" rx="3.8279999999999994" ry="3.132" transform="rotate(-15 305.6 266.0)" fill="#333" stroke="#1c1c1c" stroke-width="1.03"/>
<line x1="292.0" y1="272.0" x2="293.0" y2="275.0" stroke="#1c1c1c" stroke-width="0.8"/>
<line x1="293.6" y1="271.5" x2="294.6" y2="274.5" stroke="#1c1c1c" stroke-width="0.8"/>
<line x1="295.2" y1="271.0" x2="296.2" y2="274.0" stroke="#1c1c1c" stroke-width="0.8"/>
<line x1="296.8" y1="270.5" x2="297.8" y2="273.5" stroke="#1c1c1c" stroke-width="0.8"/>
<line x1="298.4" y1="270.0" x2="299.4" y2="273.0" stroke="#1c1c1c" stroke-width="0.8"/>
<path d="M274,278 L280,276 L282,283 L276,285 Z" fill="#444" stroke="#1c1c1c" stroke-width="0.92" />
<path d="M288,275 L296,272 L298,280 L290,283 Z" fill="#666" stroke="#1c1c1c" stroke-width="0.92" />
<path d="M284,246 L328,230 M286,250 L300,245 M322,247 L333,243 M276,270 L296,263 M300,271 L318,265 M320,268 L342,258" fill="none" stroke="#1c1c1c" stroke-width="0.8" />
<path d="M272,288 L296,284 M298,290 L306,296 M284,308 L300,304 M300,312 L316,306 M322,300 L336,292" fill="none" stroke="#1c1c1c" stroke-width="0.8" />
<path d="M296,254 L298,262 M312,256 L314,263 M340,246 L342,256 M318,276 L320,286" fill="none" stroke="#1c1c1c" stroke-width="0.8" />
<g transform="translate(317.5 278.5) rotate(-54.68878656036681)">
<path d="M0,-7.0 L29.410882339705484,-7.0 A3.15,7.0 0 0 1 29.410882339705484,7.0 L0,7.0 A3.15,7.0 0 0 1 0,-7.0 Z" fill="#fff" stroke="#1c1c1c" stroke-width="1"/>
<ellipse cx="29.410882339705484" cy="0" rx="3.15" ry="7.0" fill="#fff" stroke="#1c1c1c" stroke-width="0.9"/>
<path d="M5,-7.0 A3.15,7.0 0 0 0 5,7.0" fill="none" stroke="#1c1c1c" stroke-width="1.3"/>
<path d="M7,-7.0 A3.15,7.0 0 0 0 7,7.0" fill="none" stroke="#1c1c1c" stroke-width="0.6"/>
</g>
<path d="M329,247 L336,242 L341.5,247.5 L335,253.5 Z" fill="#fff" stroke="#1c1c1c" stroke-width="1.03" />
<ellipse cx="337.8" cy="249.8" rx="3.3" ry="2.2" transform="rotate(-35 337.8 249.8)" fill="#222" stroke="#1c1c1c" stroke-width="1.03"/>
<path d="M340,257 L346,260 L345,266 L339,263.5 Z" fill="#fff" stroke="#1c1c1c" stroke-width="0.92" />
<path d="M326,278 L333,273 L336,279 L329,284 Z" fill="#555" stroke="#1c1c1c" stroke-width="0.92" />
<path d="M318,286 L338,280 L339,290 L322,296 Z" fill="#fff" stroke="#1c1c1c" stroke-width="0.92" />
<path d="M299,279.5 C302,276.5 308,276.5 311.5,280 L320,294.5 C321.5,299 319,303.5 315,305 C311,306 308,304.5 306,301.5 Z" fill="#fff" stroke="#1c1c1c" stroke-width="1.15" />
<ellipse cx="314.3" cy="300" rx="4.6" ry="5.8" transform="rotate(-30 314.3 300)" fill="#fff" stroke="#1c1c1c" stroke-width="1.03"/>
<ellipse cx="305.6" cy="283.8" rx="5.6" ry="6.4" transform="rotate(-30 305.6 283.8)" fill="#fff" stroke="#1c1c1c" stroke-width="1.03"/>
<ellipse cx="305.9" cy="284.2" rx="3.6" ry="4.4" transform="rotate(-30 305.9 284.2)" fill="#fff" stroke="#1c1c1c" stroke-width="0.8"/>
<path d="M266,292 C268,287 275,285 281,288 L290,292 L298,298 L296,306 L284,306 L270,304 Z" fill="#fff" stroke="#1c1c1c" stroke-width="1.03" />
<ellipse cx="281.5" cy="299" rx="5.6" ry="6.2" transform="rotate(-15 281.5 299)" fill="#fff" stroke="#1c1c1c" stroke-width="1.38"/>
<ellipse cx="282.1" cy="299.2" rx="3.2479999999999998" ry="3.5959999999999996" transform="rotate(-15 282.1 299.2)" fill="#333" stroke="#1c1c1c" stroke-width="1.03"/>
<path d="M262,305 L270,302.5 L271.5,306.5 L263,309.5 Z" fill="#fff" stroke="#1c1c1c" stroke-width="0.92" />
<path d="M275.5,311 L275.5,316 C277,320 285,320 286.5,316 L286.5,311 Z" fill="#fff" stroke="#1c1c1c" stroke-width="1.03" />
<ellipse cx="281" cy="311" rx="5.5" ry="3.6" transform="rotate(0 281 311)" fill="#fff" stroke="#1c1c1c" stroke-width="1.15"/>
<ellipse cx="281" cy="311.2" rx="3" ry="2" transform="rotate(0 281 311.2)" fill="#333" stroke="#1c1c1c" stroke-width="0.92"/>
<path d="M296,322.6 L309,317.6" fill="none" stroke="#1c1c1c" stroke-width="5.6" stroke-linecap="round" stroke-linejoin="round"/>
<path d="M296,322.6 L309,317.6" fill="none" stroke="#fff" stroke-width="3.6" stroke-linecap="round" stroke-linejoin="round"/>
<path d="M307,314.5 L311.5,313 L314.5,315.5 L314.5,319.5 L310.5,321.5 L307.5,319.5 Z" fill="#fff" stroke="#1c1c1c" stroke-width="1.03" />
<ellipse cx="311.2" cy="317.2" rx="2.2" ry="2.8" transform="rotate(-15 311.2 317.2)" fill="#fff" stroke="#1c1c1c" stroke-width="0.8"/>
<ellipse cx="237.6" cy="284.5" rx="20.4" ry="21.4" transform="rotate(-10 237.6 284.5)" fill="#fff" stroke="#1c1c1c" stroke-width="1.26"/>
<ellipse cx="239.2" cy="284.2" rx="19.2" ry="20.6" transform="rotate(-10 239.2 284.2)" fill="none" stroke="#1c1c1c" stroke-width="0.8"/>
<ellipse cx="227.8" cy="273.6" rx="1.6" ry="2.2" transform="rotate(-10 227.8 273.6)" fill="#777" stroke="#1c1c1c" stroke-width="0.92"/>
<ellipse cx="242" cy="277.5" rx="1.6" ry="2.2" transform="rotate(-10 242 277.5)" fill="#777" stroke="#1c1c1c" stroke-width="0.92"/>
<ellipse cx="247.4" cy="293.8" rx="1.6" ry="2.2" transform="rotate(-10 247.4 293.8)" fill="#777" stroke="#1c1c1c" stroke-width="0.92"/>
<ellipse cx="235.5" cy="301" rx="1.6" ry="2.2" transform="rotate(-10 235.5 301)" fill="#777" stroke="#1c1c1c" stroke-width="0.92"/>
<ellipse cx="236.5" cy="284.8" rx="6.4" ry="8.6" transform="rotate(-10 236.5 284.8)" fill="#fff" stroke="#1c1c1c" stroke-width="1.03"/>
<path d="M222,288.5 L232,285.8 C235,287 236.5,291.5 235,294.5 L224,297.5 Z" fill="#fff" stroke="#1c1c1c" stroke-width="1.03" />
<path d="M217.8,289.8 L225,287.6 L227,296.6 L219.5,298.6 Z" fill="#555" stroke="#1c1c1c" stroke-width="1.03" />
<line x1="219.2" y1="289.4" x2="221.0" y2="298.2" stroke="#ddd" stroke-width="0.57"/>
<line x1="220.89999999999998" y1="288.9" x2="222.7" y2="297.7" stroke="#ddd" stroke-width="0.57"/>
<line x1="222.6" y1="288.4" x2="224.4" y2="297.2" stroke="#ddd" stroke-width="0.57"/>
<line x1="224.29999999999998" y1="287.9" x2="226.1" y2="296.7" stroke="#ddd" stroke-width="0.57"/>
<ellipse cx="218.6" cy="294.2" rx="2.2" ry="4.4" transform="rotate(-12 218.6 294.2)" fill="#fff" stroke="#1c1c1c" stroke-width="1.03"/>
<line x1="289.2" y1="269.5" x2="289.2" y2="325.3" stroke="#1c1c1c" stroke-width="0.92"/>
<circle cx="359.2" cy="251" r="6.8" fill="#fff" stroke="#1c1c1c" stroke-width="1.15"/>
<rect x="328.6" y="292.8" width="14" height="12" rx="6" fill="#fff" stroke="#1c1c1c" stroke-width="1"/>
<line x1="338" y1="250.8" x2="352.4" y2="250.8" stroke="#1c1c1c" stroke-width="0.92"/>
<line x1="318" y1="298" x2="328.6" y2="298.5" stroke="#1c1c1c" stroke-width="0.92"/>
<line x1="267.5" y1="327" x2="278" y2="317.5" stroke="#1c1c1c" stroke-width="0.92"/>
<line x1="302.5" y1="330" x2="303.5" y2="322" stroke="#1c1c1c" stroke-width="0.92"/>
<line x1="356" y1="88.4" x2="300.5" y2="245" stroke="#1c1c1c" stroke-width="0.92"/>
<line x1="375.3" y1="180" x2="301.5" y2="353.5" stroke="#1c1c1c" stroke-width="0.92"/>
<line x1="336" y1="280" x2="322" y2="286" stroke="#1c1c1c" stroke-width="0.92"/>
<line x1="338" y1="250" x2="346" y2="256" stroke="#1c1c1c" stroke-width="0.92"/>
<text x="175" y="7.0" font-size="9.6" text-anchor="middle" font-weight="normal">45</text>
<text x="196" y="14.0" font-size="9.6" text-anchor="middle" font-weight="normal">44</text>
<text x="213.5" y="19.0" font-size="9.6" text-anchor="middle" font-weight="normal">43</text>
<text x="226" y="27.0" font-size="9.6" text-anchor="middle" font-weight="normal">44</text>
<text x="158" y="42.5" font-size="9.6" text-anchor="middle" font-weight="normal">41</text>
<text x="171.5" y="42.5" font-size="9.6" text-anchor="middle" font-weight="normal">42</text>
<text x="142.5" y="55.0" font-size="9.6" text-anchor="middle" font-weight="normal">39</text>
<text x="126.5" y="70.0" font-size="9.6" text-anchor="middle" font-weight="normal">38</text>
<text x="170.5" y="73.5" font-size="9.6" text-anchor="middle" font-weight="normal">27</text>
<text x="151.5" y="89.5" font-size="9.6" text-anchor="middle" font-weight="normal">26</text>
<text x="171.5" y="133.5" font-size="9.6" text-anchor="middle" font-weight="normal">25</text>
<text x="283" y="105.5" font-size="9.6" text-anchor="middle" font-weight="normal">27</text>
<text x="130.5" y="148.5" font-size="9.6" text-anchor="middle" font-weight="normal">38</text>
<text x="157.5" y="146.0" font-size="9.6" text-anchor="middle" font-weight="normal">41</text>
<text x="150" y="160.0" font-size="9.6" text-anchor="middle" font-weight="normal">39</text>
<text x="166.5" y="170.0" font-size="9.6" text-anchor="middle" font-weight="normal">42</text>
<text x="190" y="170.5" font-size="9.6" text-anchor="middle" font-weight="normal">7</text>
<text x="203.5" y="193.0" font-size="9.6" text-anchor="middle" font-weight="normal">40</text>
<text x="216.5" y="186.5" font-size="9.6" text-anchor="middle" font-weight="normal">39</text>
<text x="244" y="205.5" font-size="9.6" text-anchor="middle" font-weight="normal">1</text>
<text x="150.5" y="258.0" font-size="9.6" text-anchor="middle" font-weight="normal">32</text>
<text x="124" y="284.5" font-size="9.6" text-anchor="middle" font-weight="normal">33</text>
<text x="198.5" y="274.5" font-size="9.6" text-anchor="middle" font-weight="normal">31</text>
<text x="343.5" y="60.5" font-size="9.6" text-anchor="middle" font-weight="normal">24</text>
<text x="320" y="78.0" font-size="9.6" text-anchor="middle" font-weight="normal">27</text>
<text x="338.5" y="79.0" font-size="9.6" text-anchor="middle" font-weight="normal">26</text>
<text x="462.5" y="57.0" font-size="9.6" text-anchor="middle" font-weight="normal">27</text>
<text x="390.5" y="95.5" font-size="9.6" text-anchor="middle" font-weight="normal">25</text>
<text x="490" y="104.5" font-size="9.6" text-anchor="middle" font-weight="normal">26</text>
<text x="405" y="144.5" font-size="9.6" text-anchor="middle" font-weight="normal">23</text>
<text x="311.5" y="149.0" font-size="9.6" text-anchor="middle" font-weight="normal">25</text>
<text x="369" y="214.5" font-size="9.6" text-anchor="middle" font-weight="normal">2A</text>
<text x="385.5" y="233.5" font-size="9.6" text-anchor="middle" font-weight="normal">2</text>
<text x="417" y="219.0" font-size="9.6" text-anchor="middle" font-weight="normal">12</text>
<text x="458" y="213.0" font-size="9.6" text-anchor="middle" font-weight="normal">13</text>
<text x="360" y="254.5" font-size="9.6" text-anchor="middle" font-weight="normal">1A</text>
<text x="464.5" y="271.5" font-size="9.6" text-anchor="middle" font-weight="normal">3</text>
<text x="335" y="301.5" font-size="9.6" text-anchor="middle" font-weight="normal">1B</text>
<text x="98" y="307.0" font-size="9.6" text-anchor="middle" font-weight="normal">34</text>
<text x="208.5" y="351.5" font-size="9.6" text-anchor="middle" font-weight="normal">16</text>
<text x="267.5" y="334.0" font-size="9.6" text-anchor="middle" font-weight="normal">17</text>
<text x="253.5" y="345.5" font-size="9.6" text-anchor="middle" font-weight="normal">19</text>
<text x="266.5" y="381.5" font-size="9.6" text-anchor="middle" font-weight="normal">22</text>
<text x="189" y="409.5" font-size="9.6" text-anchor="middle" font-weight="normal">25</text>
<text x="251" y="441.5" font-size="9.6" text-anchor="middle" font-weight="normal">8</text>
<text x="154.5" y="481.0" font-size="9.6" text-anchor="middle" font-weight="normal">26</text>
<text x="176" y="521.5" font-size="9.6" text-anchor="middle" font-weight="normal">27</text>
<text x="290.5" y="516.5" font-size="9.6" text-anchor="middle" font-weight="normal">9</text>
<text x="171.5" y="544.0" font-size="9.6" text-anchor="middle" font-weight="normal">14</text>
<text x="197.5" y="550.0" font-size="9.6" text-anchor="middle" font-weight="normal">15</text>
<text x="244" y="558.5" font-size="9.6" text-anchor="middle" font-weight="normal">4</text>
<text x="334" y="315.5" font-size="9.6" text-anchor="middle" font-weight="normal">20</text>
<text x="353.5" y="305.5" font-size="9.6" text-anchor="middle" font-weight="normal">21</text>
<text x="302.5" y="337.0" font-size="9.6" text-anchor="middle" font-weight="normal">18</text>
<text x="386" y="327.0" font-size="9.6" text-anchor="middle" font-weight="normal">12</text>
<text x="418" y="353.0" font-size="9.6" text-anchor="middle" font-weight="normal">13</text>
<text x="482" y="314.0" font-size="9.6" text-anchor="middle" font-weight="normal">30</text>
<text x="485.7" y="376.0" font-size="9.6" text-anchor="middle" font-weight="normal">29</text>
<text x="376" y="359.5" font-size="9.6" text-anchor="middle" font-weight="normal">11</text>
<text x="464" y="394.0" font-size="9.6" text-anchor="middle" font-weight="normal">28</text>
<text x="400" y="408.5" font-size="9.6" text-anchor="middle" font-weight="normal">12</text>
<text x="487" y="431.0" font-size="9.6" text-anchor="middle" font-weight="normal">37</text>
<text x="495.5" y="446.0" font-size="9.6" text-anchor="middle" font-weight="normal">36</text>
<text x="374" y="464.5" font-size="9.6" text-anchor="middle" font-weight="normal">11</text>
<text x="424.5" y="475.0" font-size="9.6" text-anchor="middle" font-weight="normal">13</text>
<text x="337.5" y="465.5" font-size="9.6" text-anchor="middle" font-weight="normal">5</text>
<text x="395" y="483.0" font-size="9.6" text-anchor="middle" font-weight="normal">10</text>
<text x="366.5" y="513.0" font-size="9.6" text-anchor="middle" font-weight="normal">6</text>
<text x="452.5" y="513.5" font-size="9.6" text-anchor="middle" font-weight="normal">35</text>
<text x="333.5" y="576.5" font-size="9.6" text-anchor="middle" font-weight="normal">37</text>
<text x="349" y="572.0" font-size="9.6" text-anchor="middle" font-weight="normal">36</text>
<text x="446.5" y="591.5" font-size="7.5" text-anchor="middle" font-weight="bold" style="stroke-width:0">17618</text>
<defs><pattern id="wm" width="6" height="6" patternUnits="userSpaceOnUse"><rect width="6" height="6" fill="#dcdcdc"/><rect x="0" y="1" width="1.6" height="1.4" fill="#f6f6f6"/><rect x="3" y="0" width="1.4" height="1.2" fill="#cdcdcd"/><rect x="2" y="3" width="1.6" height="1.4" fill="#f3f3f3"/><rect x="4.4" y="3.8" width="1.2" height="1.4" fill="#cfcfcf"/><rect x="1" y="4.6" width="1.2" height="1.2" fill="#f0f0f0"/><rect x="4.6" y="1.6" width="1.2" height="1.2" fill="#f4f4f4"/></pattern><linearGradient id="wmg" x1="160" y1="0" x2="440" y2="0" gradientUnits="userSpaceOnUse"><stop offset="0" stop-color="#fff"/><stop offset="0.35" stop-color="#ddd"/><stop offset="1" stop-color="#8a8a8a"/></linearGradient><mask id="wmm" maskUnits="userSpaceOnUse" x="150" y="230" width="300" height="135"><rect x="150" y="230" width="300" height="135" fill="url(#wmg)"/></mask></defs>
<g mask="url(#wmm)" style="mix-blend-mode:multiply"><g fill="url(#wm)" stroke="none" font-weight="bold" font-size="66" style="font-family:'Liberation Sans',sans-serif"><text style="stroke:none" x="161" y="291" textLength="279" lengthAdjust="spacingAndGlyphs">PROPERTY OF</text><text style="stroke:none" x="161" y="352" textLength="279" lengthAdjust="spacingAndGlyphs">VOLVO PENTA</text></g></g>
</svg>
</body></html>
